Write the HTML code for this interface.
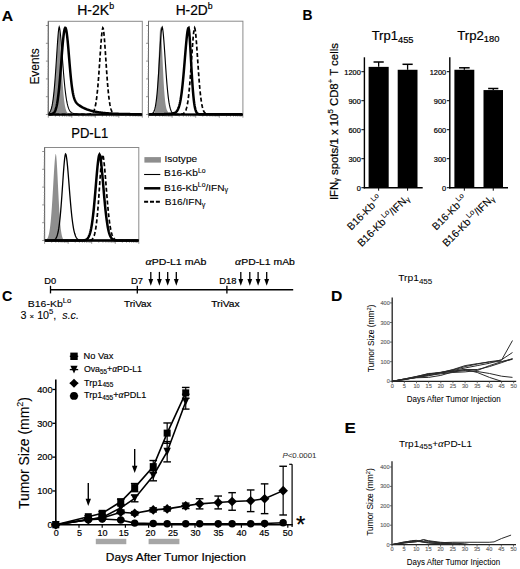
<!DOCTYPE html>
<html><head><meta charset="utf-8"><style>
html,body{margin:0;padding:0;background:#fff;}
svg{display:block;font-family:"Liberation Sans", sans-serif;}
text{stroke:#000;stroke-width:0.2px;}
text[fill="#666"]{stroke:#666;stroke-width:0.15px;}
text[fill="#333"]{stroke:#333;stroke-width:0.25px;}
text[font-weight="bold"]{stroke-width:0.1px;}
</style></head><body>
<svg width="520" height="569" viewBox="0 0 520 569" font-family='"Liberation Sans", sans-serif'>
<rect width="520" height="569" fill="#fff"/>
<text x="1.71" y="20.7" font-size="15.2" textLength="11.36" lengthAdjust="spacingAndGlyphs" font-weight="bold">A</text>
<text x="77.22" y="14.7" font-size="14" textLength="36.89" lengthAdjust="spacingAndGlyphs">H-2K<tspan font-size="8.8" dy="-5.9">b</tspan></text>
<text x="175.63" y="14.7" font-size="14" textLength="37.01" lengthAdjust="spacingAndGlyphs">H-2D<tspan font-size="8.8" dy="-5.9">b</tspan></text>
<text x="71.23" y="138.1" font-size="13.9" textLength="36.97" lengthAdjust="spacingAndGlyphs">PD-L1</text>
<text transform="translate(39.4,66.4) rotate(-90)" font-size="11.9" text-anchor="middle" style="stroke-width:0.1px">Events</text>
<line x1="48.3" y1="115.1" x2="48.3" y2="117.7" stroke="#777" stroke-width="0.8"/>
<line x1="55.37" y1="115.1" x2="55.37" y2="116.9" stroke="#999" stroke-width="0.7"/>
<line x1="59.51" y1="115.1" x2="59.51" y2="116.9" stroke="#999" stroke-width="0.7"/>
<line x1="62.45" y1="115.1" x2="62.45" y2="116.9" stroke="#999" stroke-width="0.7"/>
<line x1="64.73" y1="115.1" x2="64.73" y2="116.9" stroke="#999" stroke-width="0.7"/>
<line x1="66.59" y1="115.1" x2="66.59" y2="116.9" stroke="#999" stroke-width="0.7"/>
<line x1="68.16" y1="115.1" x2="68.16" y2="116.9" stroke="#999" stroke-width="0.7"/>
<line x1="69.52" y1="115.1" x2="69.52" y2="116.9" stroke="#999" stroke-width="0.7"/>
<line x1="70.72" y1="115.1" x2="70.72" y2="116.9" stroke="#999" stroke-width="0.7"/>
<line x1="71.8" y1="115.1" x2="71.8" y2="117.7" stroke="#777" stroke-width="0.8"/>
<line x1="78.87" y1="115.1" x2="78.87" y2="116.9" stroke="#999" stroke-width="0.7"/>
<line x1="83.01" y1="115.1" x2="83.01" y2="116.9" stroke="#999" stroke-width="0.7"/>
<line x1="85.95" y1="115.1" x2="85.95" y2="116.9" stroke="#999" stroke-width="0.7"/>
<line x1="88.23" y1="115.1" x2="88.23" y2="116.9" stroke="#999" stroke-width="0.7"/>
<line x1="90.09" y1="115.1" x2="90.09" y2="116.9" stroke="#999" stroke-width="0.7"/>
<line x1="91.66" y1="115.1" x2="91.66" y2="116.9" stroke="#999" stroke-width="0.7"/>
<line x1="93.02" y1="115.1" x2="93.02" y2="116.9" stroke="#999" stroke-width="0.7"/>
<line x1="94.22" y1="115.1" x2="94.22" y2="116.9" stroke="#999" stroke-width="0.7"/>
<line x1="95.3" y1="115.1" x2="95.3" y2="117.7" stroke="#777" stroke-width="0.8"/>
<line x1="102.37" y1="115.1" x2="102.37" y2="116.9" stroke="#999" stroke-width="0.7"/>
<line x1="106.51" y1="115.1" x2="106.51" y2="116.9" stroke="#999" stroke-width="0.7"/>
<line x1="109.45" y1="115.1" x2="109.45" y2="116.9" stroke="#999" stroke-width="0.7"/>
<line x1="111.73" y1="115.1" x2="111.73" y2="116.9" stroke="#999" stroke-width="0.7"/>
<line x1="113.59" y1="115.1" x2="113.59" y2="116.9" stroke="#999" stroke-width="0.7"/>
<line x1="115.16" y1="115.1" x2="115.16" y2="116.9" stroke="#999" stroke-width="0.7"/>
<line x1="116.52" y1="115.1" x2="116.52" y2="116.9" stroke="#999" stroke-width="0.7"/>
<line x1="117.72" y1="115.1" x2="117.72" y2="116.9" stroke="#999" stroke-width="0.7"/>
<line x1="118.8" y1="115.1" x2="118.8" y2="117.7" stroke="#777" stroke-width="0.8"/>
<line x1="125.87" y1="115.1" x2="125.87" y2="116.9" stroke="#999" stroke-width="0.7"/>
<line x1="130.01" y1="115.1" x2="130.01" y2="116.9" stroke="#999" stroke-width="0.7"/>
<line x1="132.95" y1="115.1" x2="132.95" y2="116.9" stroke="#999" stroke-width="0.7"/>
<line x1="135.23" y1="115.1" x2="135.23" y2="116.9" stroke="#999" stroke-width="0.7"/>
<line x1="137.09" y1="115.1" x2="137.09" y2="116.9" stroke="#999" stroke-width="0.7"/>
<line x1="138.66" y1="115.1" x2="138.66" y2="116.9" stroke="#999" stroke-width="0.7"/>
<line x1="140.02" y1="115.1" x2="140.02" y2="116.9" stroke="#999" stroke-width="0.7"/>
<line x1="141.22" y1="115.1" x2="141.22" y2="116.9" stroke="#999" stroke-width="0.7"/>
<line x1="142.3" y1="115.1" x2="142.3" y2="117.7" stroke="#777" stroke-width="0.8"/>
<rect x="48.3" y="21.3" width="94" height="93" fill="none" stroke="#8a8a8a" stroke-width="1"/>
<line x1="48.3" y1="21.3" x2="48.3" y2="114.3" stroke="#666" stroke-width="1"/>
<line x1="45.9" y1="25.5" x2="48.3" y2="25.5" stroke="#777" stroke-width="0.8"/>
<line x1="45.9" y1="43.3" x2="48.3" y2="43.3" stroke="#777" stroke-width="0.8"/>
<line x1="45.9" y1="61.1" x2="48.3" y2="61.1" stroke="#777" stroke-width="0.8"/>
<line x1="45.9" y1="78.9" x2="48.3" y2="78.9" stroke="#777" stroke-width="0.8"/>
<line x1="45.9" y1="96.7" x2="48.3" y2="96.7" stroke="#777" stroke-width="0.8"/>
<line x1="45.9" y1="114.5" x2="48.3" y2="114.5" stroke="#777" stroke-width="0.8"/>
<line x1="47" y1="30.86" x2="48.3" y2="30.86" stroke="#aaa" stroke-width="0.5"/>
<line x1="47" y1="33.99" x2="48.3" y2="33.99" stroke="#aaa" stroke-width="0.5"/>
<line x1="47" y1="36.22" x2="48.3" y2="36.22" stroke="#aaa" stroke-width="0.5"/>
<line x1="47" y1="37.94" x2="48.3" y2="37.94" stroke="#aaa" stroke-width="0.5"/>
<line x1="47" y1="39.35" x2="48.3" y2="39.35" stroke="#aaa" stroke-width="0.5"/>
<line x1="47" y1="40.54" x2="48.3" y2="40.54" stroke="#aaa" stroke-width="0.5"/>
<line x1="47" y1="41.58" x2="48.3" y2="41.58" stroke="#aaa" stroke-width="0.5"/>
<line x1="47" y1="42.49" x2="48.3" y2="42.49" stroke="#aaa" stroke-width="0.5"/>
<line x1="47" y1="48.66" x2="48.3" y2="48.66" stroke="#aaa" stroke-width="0.5"/>
<line x1="47" y1="51.79" x2="48.3" y2="51.79" stroke="#aaa" stroke-width="0.5"/>
<line x1="47" y1="54.02" x2="48.3" y2="54.02" stroke="#aaa" stroke-width="0.5"/>
<line x1="47" y1="55.74" x2="48.3" y2="55.74" stroke="#aaa" stroke-width="0.5"/>
<line x1="47" y1="57.15" x2="48.3" y2="57.15" stroke="#aaa" stroke-width="0.5"/>
<line x1="47" y1="58.34" x2="48.3" y2="58.34" stroke="#aaa" stroke-width="0.5"/>
<line x1="47" y1="59.38" x2="48.3" y2="59.38" stroke="#aaa" stroke-width="0.5"/>
<line x1="47" y1="60.29" x2="48.3" y2="60.29" stroke="#aaa" stroke-width="0.5"/>
<line x1="47" y1="66.46" x2="48.3" y2="66.46" stroke="#aaa" stroke-width="0.5"/>
<line x1="47" y1="69.59" x2="48.3" y2="69.59" stroke="#aaa" stroke-width="0.5"/>
<line x1="47" y1="71.82" x2="48.3" y2="71.82" stroke="#aaa" stroke-width="0.5"/>
<line x1="47" y1="73.54" x2="48.3" y2="73.54" stroke="#aaa" stroke-width="0.5"/>
<line x1="47" y1="74.95" x2="48.3" y2="74.95" stroke="#aaa" stroke-width="0.5"/>
<line x1="47" y1="76.14" x2="48.3" y2="76.14" stroke="#aaa" stroke-width="0.5"/>
<line x1="47" y1="77.18" x2="48.3" y2="77.18" stroke="#aaa" stroke-width="0.5"/>
<line x1="47" y1="78.09" x2="48.3" y2="78.09" stroke="#aaa" stroke-width="0.5"/>
<line x1="47" y1="84.26" x2="48.3" y2="84.26" stroke="#aaa" stroke-width="0.5"/>
<line x1="47" y1="87.39" x2="48.3" y2="87.39" stroke="#aaa" stroke-width="0.5"/>
<line x1="47" y1="89.62" x2="48.3" y2="89.62" stroke="#aaa" stroke-width="0.5"/>
<line x1="47" y1="91.34" x2="48.3" y2="91.34" stroke="#aaa" stroke-width="0.5"/>
<line x1="47" y1="92.75" x2="48.3" y2="92.75" stroke="#aaa" stroke-width="0.5"/>
<line x1="47" y1="93.94" x2="48.3" y2="93.94" stroke="#aaa" stroke-width="0.5"/>
<line x1="47" y1="94.98" x2="48.3" y2="94.98" stroke="#aaa" stroke-width="0.5"/>
<line x1="47" y1="95.89" x2="48.3" y2="95.89" stroke="#aaa" stroke-width="0.5"/>
<line x1="47" y1="102.06" x2="48.3" y2="102.06" stroke="#aaa" stroke-width="0.5"/>
<line x1="47" y1="105.19" x2="48.3" y2="105.19" stroke="#aaa" stroke-width="0.5"/>
<line x1="47" y1="107.42" x2="48.3" y2="107.42" stroke="#aaa" stroke-width="0.5"/>
<line x1="47" y1="109.14" x2="48.3" y2="109.14" stroke="#aaa" stroke-width="0.5"/>
<line x1="47" y1="110.55" x2="48.3" y2="110.55" stroke="#aaa" stroke-width="0.5"/>
<line x1="47" y1="111.74" x2="48.3" y2="111.74" stroke="#aaa" stroke-width="0.5"/>
<line x1="47" y1="112.78" x2="48.3" y2="112.78" stroke="#aaa" stroke-width="0.5"/>
<line x1="47" y1="113.69" x2="48.3" y2="113.69" stroke="#aaa" stroke-width="0.5"/>
<path d="M48.80,112.82 L49.20,112.41 L49.60,111.89 L50.00,111.24 L50.40,110.45 L50.80,109.48 L51.20,108.31 L51.60,106.90 L52.00,105.22 L52.40,103.24 L52.80,100.90 L53.20,98.20 L53.60,95.08 L54.00,91.53 L54.40,87.53 L54.80,83.08 L55.20,78.18 L55.60,72.86 L56.00,67.19 L56.40,61.23 L56.80,55.10 L57.20,48.95 L57.60,42.96 L58.00,37.38 L58.40,32.50 L58.80,28.72 L59.20,26.80 L59.60,29.61 L60.00,35.05 L60.40,41.91 L60.80,49.50 L61.20,57.34 L61.60,65.05 L62.00,72.36 L62.40,79.10 L62.80,85.16 L63.20,90.49 L63.60,95.08 L64.00,98.97 L64.40,102.22 L64.80,104.89 L65.20,107.04 L65.60,108.76 L66.00,110.12 L66.40,111.18 L66.80,111.99 L67.20,112.61 L67.60,113.07 L68.00,113.42 L68.40,113.67 L68.80,113.85 L69.20,113.99 L69.60,114.08 L70.00,114.15 L70.40,114.20 L70.80,114.23 L71.20,114.25 L71.60,114.27 L72.00,114.28 L72.40,114.29 L72.80,114.29 L73.20,114.29 L73.60,114.30 L74.00,114.30 L74.40,114.30 L74.80,114.30 L75.20,114.30 L75.60,114.30 L76.00,114.30 L76.40,114.30 L76.80,114.30 L77.20,114.30 L77.60,114.30 L78.00,114.30 L78.40,114.30 L78.80,114.30 L79.20,114.30 L79.60,114.30 L80.00,114.30 L80.40,114.30 L80.80,114.30 L81.20,114.30 L81.60,114.30 L82.00,114.30 L82.40,114.30 L82.80,114.30 L83.20,114.30 L83.60,114.30 L84.00,114.30 L84.40,114.30 L84.80,114.30 L85.20,114.30 L85.60,114.30 L86.00,114.30 L86.40,114.30 L86.80,114.30 L87.20,114.30 L87.60,114.30 L88.00,114.30 L88.40,114.30 L88.80,114.30 L89.20,114.30 L89.60,114.30 L90.00,114.30 L90.40,114.30 L90.80,114.30 L91.20,114.30 L91.60,114.30 L92.00,114.30 L92.40,114.30 L92.80,114.30 L93.20,114.30 L93.60,114.30 L94.00,114.30 L94.40,114.30 L94.80,114.30 L95.20,114.30 L95.60,114.30 L96.00,114.30 L96.40,114.30 L96.80,114.30 L97.20,114.30 L97.60,114.30 L98.00,114.30 L98.40,114.30 L98.80,114.30 L99.20,114.30 L99.60,114.30 L100.00,114.30 L100.40,114.30 L100.80,114.30 L101.20,114.30 L101.60,114.30 L102.00,114.30 L102.40,114.30 L102.80,114.30 L103.20,114.30 L103.60,114.30 L104.00,114.30 L104.40,114.30 L104.80,114.30 L105.20,114.30 L105.60,114.30 L106.00,114.30 L106.40,114.30 L106.80,114.30 L107.20,114.30 L107.60,114.30 L108.00,114.30 L108.40,114.30 L108.80,114.30 L109.20,114.30 L109.60,114.30 L110.00,114.30 L110.40,114.30 L110.80,114.30 L111.20,114.30 L111.60,114.30 L112.00,114.30 L112.40,114.30 L112.80,114.30 L113.20,114.30 L113.60,114.30 L114.00,114.30 L114.40,114.30 L114.80,114.30 L115.20,114.30 L115.60,114.30 L116.00,114.30 L116.40,114.30 L116.80,114.30 L117.20,114.30 L117.60,114.30 L118.00,114.30 L118.40,114.30 L118.80,114.30 L119.20,114.30 L119.60,114.30 L120.00,114.30 L120.40,114.30 L120.80,114.30 L121.20,114.30 L121.60,114.30 L122.00,114.30 L122.40,114.30 L122.80,114.30 L123.20,114.30 L123.60,114.30 L124.00,114.30 L124.40,114.30 L124.80,114.30 L125.20,114.30 L125.60,114.30 L126.00,114.30 L126.40,114.30 L126.80,114.30 L127.20,114.30 L127.60,114.30 L128.00,114.30 L128.40,114.30 L128.80,114.30 L129.20,114.30 L129.60,114.30 L130.00,114.30 L130.40,114.30 L130.80,114.30 L131.20,114.30 L131.60,114.30 L132.00,114.30 L132.40,114.30 L132.80,114.30 L133.20,114.30 L133.60,114.30 L134.00,114.30 L134.40,114.30 L134.80,114.30 L135.20,114.30 L135.60,114.30 L136.00,114.30 L136.40,114.30 L136.80,114.30 L137.20,114.30 L137.60,114.30 L138.00,114.30 L138.40,114.30 L138.80,114.30 L139.20,114.30 L139.60,114.30 L140.00,114.30 L140.40,114.30 L140.80,114.30 L141.20,114.30 L141.60,114.30 L141.80,114.30 L48.80,114.30 Z" fill="#8e8e8e" stroke="none"/>
<path d="M48.80,113.21 L49.20,112.85 L49.60,112.39 L50.00,111.81 L50.40,111.07 L50.80,110.15 L51.20,109.01 L51.60,107.62 L52.00,105.92 L52.40,103.89 L52.80,101.48 L53.20,98.65 L53.60,95.36 L54.00,91.60 L54.40,87.35 L54.80,82.61 L55.20,77.41 L55.60,71.80 L56.00,65.85 L56.40,59.67 L56.80,53.40 L57.20,47.23 L57.60,41.35 L58.00,36.04 L58.40,31.56 L58.80,28.30 L59.20,26.80 L59.60,27.91 L60.00,30.38 L60.40,33.80 L60.80,37.96 L61.20,42.65 L61.60,47.71 L62.00,52.97 L62.40,58.31 L62.80,63.60 L63.20,68.76 L63.60,73.71 L64.00,78.38 L64.40,82.73 L64.80,86.74 L65.20,90.39 L65.60,93.68 L66.00,96.61 L66.40,99.21 L66.80,101.48 L67.20,103.45 L67.60,105.16 L68.00,106.61 L68.40,107.85 L68.80,108.90 L69.20,109.77 L69.60,110.51 L70.00,111.12 L70.40,111.62 L70.80,112.04 L71.20,112.38 L71.60,112.66 L72.00,112.89 L72.40,113.08 L72.80,113.24 L73.20,113.37 L73.60,113.47 L74.00,113.56 L74.40,113.64 L74.80,113.70 L75.20,113.76 L75.60,113.80 L76.00,113.84 L76.40,113.88 L76.80,113.91 L77.20,113.94 L77.60,113.97 L78.00,113.99 L78.40,114.01 L78.80,114.03 L79.20,114.05 L79.60,114.07 L80.00,114.08 L80.40,114.09 L80.80,114.11 L81.20,114.12 L81.60,114.13 L82.00,114.14 L82.40,114.15 L82.80,114.16 L83.20,114.17 L83.60,114.18 L84.00,114.19 L84.40,114.20 L84.80,114.20 L85.20,114.21 L85.60,114.21 L86.00,114.22 L86.40,114.22 L86.80,114.23 L87.20,114.23 L87.60,114.24 L88.00,114.24 L88.40,114.25 L88.80,114.25 L89.20,114.25 L89.60,114.26 L90.00,114.26 L90.40,114.26 L90.80,114.26 L91.20,114.27 L91.60,114.27 L92.00,114.27 L92.40,114.27 L92.80,114.27 L93.20,114.28 L93.60,114.28 L94.00,114.28 L94.40,114.28 L94.80,114.28 L95.20,114.28 L95.60,114.28 L96.00,114.28 L96.40,114.29 L96.80,114.29 L97.20,114.29 L97.60,114.29 L98.00,114.29 L98.40,114.29 L98.80,114.29 L99.20,114.29 L99.60,114.29 L100.00,114.29 L100.40,114.29 L100.80,114.29 L101.20,114.29 L101.60,114.29 L102.00,114.29 L102.40,114.29 L102.80,114.30 L103.20,114.30 L103.60,114.30 L104.00,114.30 L104.40,114.30 L104.80,114.30 L105.20,114.30 L105.60,114.30 L106.00,114.30 L106.40,114.30 L106.80,114.30 L107.20,114.30 L107.60,114.30 L108.00,114.30 L108.40,114.30 L108.80,114.30 L109.20,114.30 L109.60,114.30 L110.00,114.30 L110.40,114.30 L110.80,114.30 L111.20,114.30 L111.60,114.30 L112.00,114.30 L112.40,114.30 L112.80,114.30 L113.20,114.30 L113.60,114.30 L114.00,114.30 L114.40,114.30 L114.80,114.30 L115.20,114.30 L115.60,114.30 L116.00,114.30 L116.40,114.30 L116.80,114.30 L117.20,114.30 L117.60,114.30 L118.00,114.30 L118.40,114.30 L118.80,114.30 L119.20,114.30 L119.60,114.30 L120.00,114.30 L120.40,114.30 L120.80,114.30 L121.20,114.30 L121.60,114.30 L122.00,114.30 L122.40,114.30 L122.80,114.30 L123.20,114.30 L123.60,114.30 L124.00,114.30 L124.40,114.30 L124.80,114.30 L125.20,114.30 L125.60,114.30 L126.00,114.30 L126.40,114.30 L126.80,114.30 L127.20,114.30 L127.60,114.30 L128.00,114.30 L128.40,114.30 L128.80,114.30 L129.20,114.30 L129.60,114.30 L130.00,114.30 L130.40,114.30 L130.80,114.30 L131.20,114.30 L131.60,114.30 L132.00,114.30 L132.40,114.30 L132.80,114.30 L133.20,114.30 L133.60,114.30 L134.00,114.30 L134.40,114.30 L134.80,114.30 L135.20,114.30 L135.60,114.30 L136.00,114.30 L136.40,114.30 L136.80,114.30 L137.20,114.30 L137.60,114.30 L138.00,114.30 L138.40,114.30 L138.80,114.30 L139.20,114.30 L139.60,114.30 L140.00,114.30 L140.40,114.30 L140.80,114.30 L141.20,114.30 L141.60,114.30" fill="none" stroke="#000" stroke-width="1.1"/>
<path d="M48.80,114.28 L49.20,114.27 L49.60,114.26 L50.00,114.24 L50.40,114.22 L50.80,114.18 L51.20,114.13 L51.60,114.05 L52.00,113.96 L52.40,113.82 L52.80,113.64 L53.20,113.41 L53.60,113.10 L54.00,112.70 L54.40,112.19 L54.80,111.54 L55.20,110.73 L55.60,109.73 L56.00,108.50 L56.40,107.02 L56.80,105.25 L57.20,103.17 L57.60,100.74 L58.00,97.94 L58.40,94.76 L58.80,91.20 L59.20,87.26 L59.60,82.96 L60.00,78.34 L60.40,73.45 L60.80,68.36 L61.20,63.15 L61.60,57.91 L62.00,52.75 L62.40,47.79 L62.80,43.15 L63.20,38.94 L63.60,35.27 L64.00,32.25 L64.40,29.96 L64.80,28.47 L65.20,27.83 L65.60,28.02 L66.00,29.03 L66.40,30.82 L66.80,33.36 L67.20,36.58 L67.60,40.38 L68.00,44.64 L68.40,49.23 L68.80,54.03 L69.20,58.91 L69.60,63.75 L70.00,68.45 L70.40,72.91 L70.80,77.08 L71.20,80.91 L71.60,84.36 L72.00,87.44 L72.40,90.14 L72.80,92.49 L73.20,94.50 L73.60,96.22 L74.00,97.68 L74.40,98.91 L74.80,99.94 L75.20,100.82 L75.60,101.57 L76.00,102.20 L76.40,102.76 L76.80,103.24 L77.20,103.68 L77.60,104.07 L78.00,104.42 L78.40,104.76 L78.80,105.07 L79.20,105.36 L79.60,105.64 L80.00,105.91 L80.40,106.17 L80.80,106.42 L81.20,106.66 L81.60,106.89 L82.00,107.12 L82.40,107.34 L82.80,107.55 L83.20,107.75 L83.60,107.95 L84.00,108.14 L84.40,108.33 L84.80,108.51 L85.20,108.69 L85.60,108.86 L86.00,109.02 L86.40,109.18 L86.80,109.34 L87.20,109.49 L87.60,109.63 L88.00,109.77 L88.40,109.91 L88.80,110.04 L89.20,110.17 L89.60,110.30 L90.00,110.42 L90.40,110.54 L90.80,110.65 L91.20,110.76 L91.60,110.87 L92.00,110.97 L92.40,111.07 L92.80,111.17 L93.20,111.27 L93.60,111.36 L94.00,111.45 L94.40,111.53 L94.80,111.62 L95.20,111.70 L95.60,111.78 L96.00,111.85 L96.40,111.93 L96.80,112.00 L97.20,112.07 L97.60,112.14 L98.00,112.20 L98.40,112.27 L98.80,112.33 L99.20,112.39 L99.60,112.45 L100.00,112.50 L100.40,112.56 L100.80,112.61 L101.20,112.66 L101.60,112.71 L102.00,112.76 L102.40,112.80 L102.80,112.85 L103.20,112.89 L103.60,112.94 L104.00,112.98 L104.40,113.02 L104.80,113.06 L105.20,113.09 L105.60,113.13 L106.00,113.17 L106.40,113.20 L106.80,113.23 L107.20,113.27 L107.60,113.30 L108.00,113.33 L108.40,113.36 L108.80,113.39 L109.20,113.41 L109.60,113.44 L110.00,113.47 L110.40,113.49 L110.80,113.52 L111.20,113.54 L111.60,113.56 L112.00,113.59 L112.40,113.61 L112.80,113.63 L113.20,113.65 L113.60,113.67 L114.00,113.69 L114.40,113.71 L114.80,113.72 L115.20,113.74 L115.60,113.76 L116.00,113.77 L116.40,113.79 L116.80,113.81 L117.20,113.82 L117.60,113.84 L118.00,113.85 L118.40,113.86 L118.80,113.88 L119.20,113.89 L119.60,113.90 L120.00,113.91 L120.40,113.93 L120.80,113.94 L121.20,113.95 L121.60,113.96 L122.00,113.97 L122.40,113.98 L122.80,113.99 L123.20,114.00 L123.60,114.01 L124.00,114.02 L124.40,114.02 L124.80,114.03 L125.20,114.04 L125.60,114.05 L126.00,114.06 L126.40,114.06 L126.80,114.07 L127.20,114.08 L127.60,114.08 L128.00,114.09 L128.40,114.10 L128.80,114.10 L129.20,114.11 L129.60,114.12 L130.00,114.12 L130.40,114.13 L130.80,114.13 L131.20,114.14 L131.60,114.14 L132.00,114.15 L132.40,114.15 L132.80,114.16 L133.20,114.16 L133.60,114.16 L134.00,114.17 L134.40,114.17 L134.80,114.18 L135.20,114.18 L135.60,114.18 L136.00,114.19 L136.40,114.19 L136.80,114.19 L137.20,114.20 L137.60,114.20 L138.00,114.20 L138.40,114.21 L138.80,114.21 L139.20,114.21 L139.60,114.21 L140.00,114.22 L140.40,114.22 L140.80,114.22 L141.20,114.22 L141.60,114.23" fill="none" stroke="#000" stroke-width="2.5"/>
<path d="M48.80,114.30 L49.20,114.30 L49.60,114.30 L50.00,114.30 L50.40,114.30 L50.80,114.30 L51.20,114.30 L51.60,114.30 L52.00,114.30 L52.40,114.30 L52.80,114.30 L53.20,114.30 L53.60,114.30 L54.00,114.30 L54.40,114.30 L54.80,114.30 L55.20,114.30 L55.60,114.30 L56.00,114.30 L56.40,114.30 L56.80,114.30 L57.20,114.30 L57.60,114.30 L58.00,114.30 L58.40,114.30 L58.80,114.30 L59.20,114.30 L59.60,114.30 L60.00,114.30 L60.40,114.30 L60.80,114.30 L61.20,114.30 L61.60,114.30 L62.00,114.30 L62.40,114.30 L62.80,114.30 L63.20,114.30 L63.60,114.30 L64.00,114.30 L64.40,114.30 L64.80,114.30 L65.20,114.30 L65.60,114.30 L66.00,114.30 L66.40,114.30 L66.80,114.30 L67.20,114.30 L67.60,114.30 L68.00,114.30 L68.40,114.30 L68.80,114.30 L69.20,114.30 L69.60,114.30 L70.00,114.30 L70.40,114.30 L70.80,114.30 L71.20,114.30 L71.60,114.30 L72.00,114.30 L72.40,114.30 L72.80,114.30 L73.20,114.30 L73.60,114.30 L74.00,114.30 L74.40,114.30 L74.80,114.30 L75.20,114.30 L75.60,114.30 L76.00,114.30 L76.40,114.30 L76.80,114.30 L77.20,114.30 L77.60,114.30 L78.00,114.30 L78.40,114.30 L78.80,114.30 L79.20,114.30 L79.60,114.30 L80.00,114.30 L80.40,114.30 L80.80,114.30 L81.20,114.30 L81.60,114.30 L82.00,114.30 L82.40,114.30 L82.80,114.30 L83.20,114.30 L83.60,114.30 L84.00,114.30 L84.40,114.30 L84.80,114.30 L85.20,114.30 L85.60,114.30 L86.00,114.30 L86.40,114.29 L86.80,114.29 L87.20,114.29 L87.60,114.28 L88.00,114.27 L88.40,114.26 L88.80,114.24 L89.20,114.21 L89.60,114.17 L90.00,114.12 L90.40,114.04 L90.80,113.94 L91.20,113.80 L91.60,113.62 L92.00,113.38 L92.40,113.06 L92.80,112.65 L93.20,112.12 L93.60,111.45 L94.00,110.60 L94.40,109.55 L94.80,108.25 L95.20,106.68 L95.60,104.78 L96.00,102.52 L96.40,99.86 L96.80,96.78 L97.20,93.25 L97.60,89.27 L98.00,84.82 L98.40,79.95 L98.80,74.69 L99.20,69.11 L99.60,63.31 L100.00,57.40 L100.40,51.53 L100.80,45.86 L101.20,40.60 L101.60,35.94 L102.00,32.10 L102.40,29.32 L102.80,27.88 L103.20,28.44 L103.60,30.72 L104.00,34.25 L104.40,38.75 L104.80,43.98 L105.20,49.72 L105.60,55.73 L106.00,61.84 L106.40,67.86 L106.80,73.68 L107.20,79.17 L107.60,84.26 L108.00,88.89 L108.40,93.04 L108.80,96.70 L109.20,99.89 L109.60,102.62 L110.00,104.93 L110.40,106.86 L110.80,108.45 L111.20,109.74 L111.60,110.79 L112.00,111.62 L112.40,112.27 L112.80,112.78 L113.20,113.17 L113.60,113.47 L114.00,113.70 L114.40,113.87 L114.80,113.99 L115.20,114.08 L115.60,114.15 L116.00,114.19 L116.40,114.23 L116.80,114.25 L117.20,114.27 L117.60,114.28 L118.00,114.28 L118.40,114.29 L118.80,114.29 L119.20,114.30 L119.60,114.30 L120.00,114.30 L120.40,114.30 L120.80,114.30 L121.20,114.30 L121.60,114.30 L122.00,114.30 L122.40,114.30 L122.80,114.30 L123.20,114.30 L123.60,114.30 L124.00,114.30 L124.40,114.30 L124.80,114.30 L125.20,114.30 L125.60,114.30 L126.00,114.30 L126.40,114.30 L126.80,114.30 L127.20,114.30 L127.60,114.30 L128.00,114.30 L128.40,114.30 L128.80,114.30 L129.20,114.30 L129.60,114.30 L130.00,114.30 L130.40,114.30 L130.80,114.30 L131.20,114.30 L131.60,114.30 L132.00,114.30 L132.40,114.30 L132.80,114.30 L133.20,114.30 L133.60,114.30 L134.00,114.30 L134.40,114.30 L134.80,114.30 L135.20,114.30 L135.60,114.30 L136.00,114.30 L136.40,114.30 L136.80,114.30 L137.20,114.30 L137.60,114.30 L138.00,114.30 L138.40,114.30 L138.80,114.30 L139.20,114.30 L139.60,114.30 L140.00,114.30 L140.40,114.30 L140.80,114.30 L141.20,114.30 L141.60,114.30" fill="none" stroke="#000" stroke-width="1.7" stroke-dasharray="4,2.4"/>
<line x1="48.3" y1="114.6" x2="142.3" y2="114.6" stroke="#000" stroke-width="2.3"/>
<line x1="148.5" y1="115.1" x2="148.5" y2="117.7" stroke="#777" stroke-width="0.8"/>
<line x1="155.6" y1="115.1" x2="155.6" y2="116.9" stroke="#999" stroke-width="0.7"/>
<line x1="159.76" y1="115.1" x2="159.76" y2="116.9" stroke="#999" stroke-width="0.7"/>
<line x1="162.71" y1="115.1" x2="162.71" y2="116.9" stroke="#999" stroke-width="0.7"/>
<line x1="165" y1="115.1" x2="165" y2="116.9" stroke="#999" stroke-width="0.7"/>
<line x1="166.86" y1="115.1" x2="166.86" y2="116.9" stroke="#999" stroke-width="0.7"/>
<line x1="168.44" y1="115.1" x2="168.44" y2="116.9" stroke="#999" stroke-width="0.7"/>
<line x1="169.81" y1="115.1" x2="169.81" y2="116.9" stroke="#999" stroke-width="0.7"/>
<line x1="171.02" y1="115.1" x2="171.02" y2="116.9" stroke="#999" stroke-width="0.7"/>
<line x1="172.1" y1="115.1" x2="172.1" y2="117.7" stroke="#777" stroke-width="0.8"/>
<line x1="179.2" y1="115.1" x2="179.2" y2="116.9" stroke="#999" stroke-width="0.7"/>
<line x1="183.36" y1="115.1" x2="183.36" y2="116.9" stroke="#999" stroke-width="0.7"/>
<line x1="186.31" y1="115.1" x2="186.31" y2="116.9" stroke="#999" stroke-width="0.7"/>
<line x1="188.6" y1="115.1" x2="188.6" y2="116.9" stroke="#999" stroke-width="0.7"/>
<line x1="190.46" y1="115.1" x2="190.46" y2="116.9" stroke="#999" stroke-width="0.7"/>
<line x1="192.04" y1="115.1" x2="192.04" y2="116.9" stroke="#999" stroke-width="0.7"/>
<line x1="193.41" y1="115.1" x2="193.41" y2="116.9" stroke="#999" stroke-width="0.7"/>
<line x1="194.62" y1="115.1" x2="194.62" y2="116.9" stroke="#999" stroke-width="0.7"/>
<line x1="195.7" y1="115.1" x2="195.7" y2="117.7" stroke="#777" stroke-width="0.8"/>
<line x1="202.8" y1="115.1" x2="202.8" y2="116.9" stroke="#999" stroke-width="0.7"/>
<line x1="206.96" y1="115.1" x2="206.96" y2="116.9" stroke="#999" stroke-width="0.7"/>
<line x1="209.91" y1="115.1" x2="209.91" y2="116.9" stroke="#999" stroke-width="0.7"/>
<line x1="212.2" y1="115.1" x2="212.2" y2="116.9" stroke="#999" stroke-width="0.7"/>
<line x1="214.06" y1="115.1" x2="214.06" y2="116.9" stroke="#999" stroke-width="0.7"/>
<line x1="215.64" y1="115.1" x2="215.64" y2="116.9" stroke="#999" stroke-width="0.7"/>
<line x1="217.01" y1="115.1" x2="217.01" y2="116.9" stroke="#999" stroke-width="0.7"/>
<line x1="218.22" y1="115.1" x2="218.22" y2="116.9" stroke="#999" stroke-width="0.7"/>
<line x1="219.3" y1="115.1" x2="219.3" y2="117.7" stroke="#777" stroke-width="0.8"/>
<line x1="226.4" y1="115.1" x2="226.4" y2="116.9" stroke="#999" stroke-width="0.7"/>
<line x1="230.56" y1="115.1" x2="230.56" y2="116.9" stroke="#999" stroke-width="0.7"/>
<line x1="233.51" y1="115.1" x2="233.51" y2="116.9" stroke="#999" stroke-width="0.7"/>
<line x1="235.8" y1="115.1" x2="235.8" y2="116.9" stroke="#999" stroke-width="0.7"/>
<line x1="237.66" y1="115.1" x2="237.66" y2="116.9" stroke="#999" stroke-width="0.7"/>
<line x1="239.24" y1="115.1" x2="239.24" y2="116.9" stroke="#999" stroke-width="0.7"/>
<line x1="240.61" y1="115.1" x2="240.61" y2="116.9" stroke="#999" stroke-width="0.7"/>
<line x1="241.82" y1="115.1" x2="241.82" y2="116.9" stroke="#999" stroke-width="0.7"/>
<line x1="242.9" y1="115.1" x2="242.9" y2="117.7" stroke="#777" stroke-width="0.8"/>
<rect x="148.5" y="21.2" width="94.4" height="93.1" fill="none" stroke="#8a8a8a" stroke-width="1"/>
<line x1="148.5" y1="21.2" x2="148.5" y2="114.3" stroke="#666" stroke-width="1"/>
<line x1="146.1" y1="25.5" x2="148.5" y2="25.5" stroke="#777" stroke-width="0.8"/>
<line x1="146.1" y1="43.3" x2="148.5" y2="43.3" stroke="#777" stroke-width="0.8"/>
<line x1="146.1" y1="61.1" x2="148.5" y2="61.1" stroke="#777" stroke-width="0.8"/>
<line x1="146.1" y1="78.9" x2="148.5" y2="78.9" stroke="#777" stroke-width="0.8"/>
<line x1="146.1" y1="96.7" x2="148.5" y2="96.7" stroke="#777" stroke-width="0.8"/>
<line x1="146.1" y1="114.5" x2="148.5" y2="114.5" stroke="#777" stroke-width="0.8"/>
<line x1="147.2" y1="30.86" x2="148.5" y2="30.86" stroke="#aaa" stroke-width="0.5"/>
<line x1="147.2" y1="33.99" x2="148.5" y2="33.99" stroke="#aaa" stroke-width="0.5"/>
<line x1="147.2" y1="36.22" x2="148.5" y2="36.22" stroke="#aaa" stroke-width="0.5"/>
<line x1="147.2" y1="37.94" x2="148.5" y2="37.94" stroke="#aaa" stroke-width="0.5"/>
<line x1="147.2" y1="39.35" x2="148.5" y2="39.35" stroke="#aaa" stroke-width="0.5"/>
<line x1="147.2" y1="40.54" x2="148.5" y2="40.54" stroke="#aaa" stroke-width="0.5"/>
<line x1="147.2" y1="41.58" x2="148.5" y2="41.58" stroke="#aaa" stroke-width="0.5"/>
<line x1="147.2" y1="42.49" x2="148.5" y2="42.49" stroke="#aaa" stroke-width="0.5"/>
<line x1="147.2" y1="48.66" x2="148.5" y2="48.66" stroke="#aaa" stroke-width="0.5"/>
<line x1="147.2" y1="51.79" x2="148.5" y2="51.79" stroke="#aaa" stroke-width="0.5"/>
<line x1="147.2" y1="54.02" x2="148.5" y2="54.02" stroke="#aaa" stroke-width="0.5"/>
<line x1="147.2" y1="55.74" x2="148.5" y2="55.74" stroke="#aaa" stroke-width="0.5"/>
<line x1="147.2" y1="57.15" x2="148.5" y2="57.15" stroke="#aaa" stroke-width="0.5"/>
<line x1="147.2" y1="58.34" x2="148.5" y2="58.34" stroke="#aaa" stroke-width="0.5"/>
<line x1="147.2" y1="59.38" x2="148.5" y2="59.38" stroke="#aaa" stroke-width="0.5"/>
<line x1="147.2" y1="60.29" x2="148.5" y2="60.29" stroke="#aaa" stroke-width="0.5"/>
<line x1="147.2" y1="66.46" x2="148.5" y2="66.46" stroke="#aaa" stroke-width="0.5"/>
<line x1="147.2" y1="69.59" x2="148.5" y2="69.59" stroke="#aaa" stroke-width="0.5"/>
<line x1="147.2" y1="71.82" x2="148.5" y2="71.82" stroke="#aaa" stroke-width="0.5"/>
<line x1="147.2" y1="73.54" x2="148.5" y2="73.54" stroke="#aaa" stroke-width="0.5"/>
<line x1="147.2" y1="74.95" x2="148.5" y2="74.95" stroke="#aaa" stroke-width="0.5"/>
<line x1="147.2" y1="76.14" x2="148.5" y2="76.14" stroke="#aaa" stroke-width="0.5"/>
<line x1="147.2" y1="77.18" x2="148.5" y2="77.18" stroke="#aaa" stroke-width="0.5"/>
<line x1="147.2" y1="78.09" x2="148.5" y2="78.09" stroke="#aaa" stroke-width="0.5"/>
<line x1="147.2" y1="84.26" x2="148.5" y2="84.26" stroke="#aaa" stroke-width="0.5"/>
<line x1="147.2" y1="87.39" x2="148.5" y2="87.39" stroke="#aaa" stroke-width="0.5"/>
<line x1="147.2" y1="89.62" x2="148.5" y2="89.62" stroke="#aaa" stroke-width="0.5"/>
<line x1="147.2" y1="91.34" x2="148.5" y2="91.34" stroke="#aaa" stroke-width="0.5"/>
<line x1="147.2" y1="92.75" x2="148.5" y2="92.75" stroke="#aaa" stroke-width="0.5"/>
<line x1="147.2" y1="93.94" x2="148.5" y2="93.94" stroke="#aaa" stroke-width="0.5"/>
<line x1="147.2" y1="94.98" x2="148.5" y2="94.98" stroke="#aaa" stroke-width="0.5"/>
<line x1="147.2" y1="95.89" x2="148.5" y2="95.89" stroke="#aaa" stroke-width="0.5"/>
<line x1="147.2" y1="102.06" x2="148.5" y2="102.06" stroke="#aaa" stroke-width="0.5"/>
<line x1="147.2" y1="105.19" x2="148.5" y2="105.19" stroke="#aaa" stroke-width="0.5"/>
<line x1="147.2" y1="107.42" x2="148.5" y2="107.42" stroke="#aaa" stroke-width="0.5"/>
<line x1="147.2" y1="109.14" x2="148.5" y2="109.14" stroke="#aaa" stroke-width="0.5"/>
<line x1="147.2" y1="110.55" x2="148.5" y2="110.55" stroke="#aaa" stroke-width="0.5"/>
<line x1="147.2" y1="111.74" x2="148.5" y2="111.74" stroke="#aaa" stroke-width="0.5"/>
<line x1="147.2" y1="112.78" x2="148.5" y2="112.78" stroke="#aaa" stroke-width="0.5"/>
<line x1="147.2" y1="113.69" x2="148.5" y2="113.69" stroke="#aaa" stroke-width="0.5"/>
<path d="M149.00,114.30 L149.40,114.30 L149.80,114.30 L150.20,114.30 L150.60,114.29 L151.00,114.29 L151.40,114.28 L151.80,114.26 L152.20,114.22 L152.60,114.15 L153.00,114.03 L153.40,113.83 L153.80,113.51 L154.20,112.99 L154.60,112.20 L155.00,111.00 L155.40,109.26 L155.80,106.80 L156.20,103.43 L156.60,98.98 L157.00,93.28 L157.40,86.28 L157.80,78.02 L158.20,68.72 L158.60,58.77 L159.00,48.81 L159.40,39.63 L159.80,32.22 L160.20,27.66 L160.60,27.40 L161.00,30.57 L161.40,36.08 L161.80,43.32 L162.20,51.63 L162.60,60.39 L163.00,69.02 L163.40,77.10 L163.80,84.33 L164.20,90.56 L164.60,95.74 L165.00,99.93 L165.40,103.23 L165.80,105.78 L166.20,107.71 L166.60,109.16 L167.00,110.23 L167.40,111.04 L167.80,111.64 L168.20,112.09 L168.60,112.44 L169.00,112.72 L169.40,112.95 L169.80,113.13 L170.20,113.29 L170.60,113.42 L171.00,113.53 L171.40,113.63 L171.80,113.71 L172.20,113.79 L172.60,113.85 L173.00,113.91 L173.40,113.96 L173.80,114.00 L174.20,114.04 L174.60,114.07 L175.00,114.10 L175.40,114.12 L175.80,114.15 L176.20,114.16 L176.60,114.18 L177.00,114.20 L177.40,114.21 L177.80,114.22 L178.20,114.23 L178.60,114.24 L179.00,114.25 L179.40,114.25 L179.80,114.26 L180.20,114.26 L180.60,114.27 L181.00,114.27 L181.40,114.28 L181.80,114.28 L182.20,114.28 L182.60,114.28 L183.00,114.29 L183.40,114.29 L183.80,114.29 L184.20,114.29 L184.60,114.29 L185.00,114.29 L185.40,114.29 L185.80,114.29 L186.20,114.30 L186.60,114.30 L187.00,114.30 L187.40,114.30 L187.80,114.30 L188.20,114.30 L188.60,114.30 L189.00,114.30 L189.40,114.30 L189.80,114.30 L190.20,114.30 L190.60,114.30 L191.00,114.30 L191.40,114.30 L191.80,114.30 L192.20,114.30 L192.60,114.30 L193.00,114.30 L193.40,114.30 L193.80,114.30 L194.20,114.30 L194.60,114.30 L195.00,114.30 L195.40,114.30 L195.80,114.30 L196.20,114.30 L196.60,114.30 L197.00,114.30 L197.40,114.30 L197.80,114.30 L198.20,114.30 L198.60,114.30 L199.00,114.30 L199.40,114.30 L199.80,114.30 L200.20,114.30 L200.60,114.30 L201.00,114.30 L201.40,114.30 L201.80,114.30 L202.20,114.30 L202.60,114.30 L203.00,114.30 L203.40,114.30 L203.80,114.30 L204.20,114.30 L204.60,114.30 L205.00,114.30 L205.40,114.30 L205.80,114.30 L206.20,114.30 L206.60,114.30 L207.00,114.30 L207.40,114.30 L207.80,114.30 L208.20,114.30 L208.60,114.30 L209.00,114.30 L209.40,114.30 L209.80,114.30 L210.20,114.30 L210.60,114.30 L211.00,114.30 L211.40,114.30 L211.80,114.30 L212.20,114.30 L212.60,114.30 L213.00,114.30 L213.40,114.30 L213.80,114.30 L214.20,114.30 L214.60,114.30 L215.00,114.30 L215.40,114.30 L215.80,114.30 L216.20,114.30 L216.60,114.30 L217.00,114.30 L217.40,114.30 L217.80,114.30 L218.20,114.30 L218.60,114.30 L219.00,114.30 L219.40,114.30 L219.80,114.30 L220.20,114.30 L220.60,114.30 L221.00,114.30 L221.40,114.30 L221.80,114.30 L222.20,114.30 L222.60,114.30 L223.00,114.30 L223.40,114.30 L223.80,114.30 L224.20,114.30 L224.60,114.30 L225.00,114.30 L225.40,114.30 L225.80,114.30 L226.20,114.30 L226.60,114.30 L227.00,114.30 L227.40,114.30 L227.80,114.30 L228.20,114.30 L228.60,114.30 L229.00,114.30 L229.40,114.30 L229.80,114.30 L230.20,114.30 L230.60,114.30 L231.00,114.30 L231.40,114.30 L231.80,114.30 L232.20,114.30 L232.60,114.30 L233.00,114.30 L233.40,114.30 L233.80,114.30 L234.20,114.30 L234.60,114.30 L235.00,114.30 L235.40,114.30 L235.80,114.30 L236.20,114.30 L236.60,114.30 L237.00,114.30 L237.40,114.30 L237.80,114.30 L238.20,114.30 L238.60,114.30 L239.00,114.30 L239.40,114.30 L239.80,114.30 L240.20,114.30 L240.60,114.30 L241.00,114.30 L241.40,114.30 L241.80,114.30 L242.20,114.30 L242.40,114.30 L149.00,114.30 Z" fill="#8e8e8e" stroke="none"/>
<path d="M149.00,114.27 L149.40,114.26 L149.80,114.23 L150.20,114.20 L150.60,114.15 L151.00,114.08 L151.40,113.97 L151.80,113.82 L152.20,113.62 L152.60,113.34 L153.00,112.95 L153.40,112.44 L153.80,111.75 L154.20,110.86 L154.60,109.71 L155.00,108.24 L155.40,106.41 L155.80,104.14 L156.20,101.39 L156.60,98.10 L157.00,94.23 L157.40,89.76 L157.80,84.69 L158.20,79.04 L158.60,72.90 L159.00,66.36 L159.40,59.58 L159.80,52.77 L160.20,46.15 L160.60,40.01 L161.00,34.66 L161.40,30.43 L161.80,27.68 L162.20,26.99 L162.60,28.43 L163.00,31.24 L163.40,35.12 L163.80,39.83 L164.20,45.15 L164.60,50.87 L165.00,56.81 L165.40,62.78 L165.80,68.64 L166.20,74.28 L166.60,79.59 L167.00,84.52 L167.40,89.01 L167.80,93.03 L168.20,96.60 L168.60,99.71 L169.00,102.40 L169.40,104.68 L169.80,106.60 L170.20,108.19 L170.60,109.50 L171.00,110.56 L171.40,111.42 L171.80,112.10 L172.20,112.63 L172.60,113.05 L173.00,113.37 L173.40,113.61 L173.80,113.80 L174.20,113.94 L174.60,114.04 L175.00,114.11 L175.40,114.17 L175.80,114.21 L176.20,114.24 L176.60,114.26 L177.00,114.27 L177.40,114.28 L177.80,114.29 L178.20,114.29 L178.60,114.29 L179.00,114.30 L179.40,114.30 L179.80,114.30 L180.20,114.30 L180.60,114.30 L181.00,114.30 L181.40,114.30 L181.80,114.30 L182.20,114.30 L182.60,114.30 L183.00,114.30 L183.40,114.30 L183.80,114.30 L184.20,114.30 L184.60,114.30 L185.00,114.30 L185.40,114.30 L185.80,114.30 L186.20,114.30 L186.60,114.30 L187.00,114.30 L187.40,114.30 L187.80,114.30 L188.20,114.30 L188.60,114.30 L189.00,114.30 L189.40,114.30 L189.80,114.30 L190.20,114.30 L190.60,114.30 L191.00,114.30 L191.40,114.30 L191.80,114.30 L192.20,114.30 L192.60,114.30 L193.00,114.30 L193.40,114.30 L193.80,114.30 L194.20,114.30 L194.60,114.30 L195.00,114.30 L195.40,114.30 L195.80,114.30 L196.20,114.30 L196.60,114.30 L197.00,114.30 L197.40,114.30 L197.80,114.30 L198.20,114.30 L198.60,114.30 L199.00,114.30 L199.40,114.30 L199.80,114.30 L200.20,114.30 L200.60,114.30 L201.00,114.30 L201.40,114.30 L201.80,114.30 L202.20,114.30 L202.60,114.30 L203.00,114.30 L203.40,114.30 L203.80,114.30 L204.20,114.30 L204.60,114.30 L205.00,114.30 L205.40,114.30 L205.80,114.30 L206.20,114.30 L206.60,114.30 L207.00,114.30 L207.40,114.30 L207.80,114.30 L208.20,114.30 L208.60,114.30 L209.00,114.30 L209.40,114.30 L209.80,114.30 L210.20,114.30 L210.60,114.30 L211.00,114.30 L211.40,114.30 L211.80,114.30 L212.20,114.30 L212.60,114.30 L213.00,114.30 L213.40,114.30 L213.80,114.30 L214.20,114.30 L214.60,114.30 L215.00,114.30 L215.40,114.30 L215.80,114.30 L216.20,114.30 L216.60,114.30 L217.00,114.30 L217.40,114.30 L217.80,114.30 L218.20,114.30 L218.60,114.30 L219.00,114.30 L219.40,114.30 L219.80,114.30 L220.20,114.30 L220.60,114.30 L221.00,114.30 L221.40,114.30 L221.80,114.30 L222.20,114.30 L222.60,114.30 L223.00,114.30 L223.40,114.30 L223.80,114.30 L224.20,114.30 L224.60,114.30 L225.00,114.30 L225.40,114.30 L225.80,114.30 L226.20,114.30 L226.60,114.30 L227.00,114.30 L227.40,114.30 L227.80,114.30 L228.20,114.30 L228.60,114.30 L229.00,114.30 L229.40,114.30 L229.80,114.30 L230.20,114.30 L230.60,114.30 L231.00,114.30 L231.40,114.30 L231.80,114.30 L232.20,114.30 L232.60,114.30 L233.00,114.30 L233.40,114.30 L233.80,114.30 L234.20,114.30 L234.60,114.30 L235.00,114.30 L235.40,114.30 L235.80,114.30 L236.20,114.30 L236.60,114.30 L237.00,114.30 L237.40,114.30 L237.80,114.30 L238.20,114.30 L238.60,114.30 L239.00,114.30 L239.40,114.30 L239.80,114.30 L240.20,114.30 L240.60,114.30 L241.00,114.30 L241.40,114.30 L241.80,114.30 L242.20,114.30" fill="none" stroke="#000" stroke-width="1.15"/>
<path d="M149.00,114.29 L149.40,114.28 L149.80,114.28 L150.20,114.28 L150.60,114.28 L151.00,114.28 L151.40,114.28 L151.80,114.28 L152.20,114.28 L152.60,114.27 L153.00,114.27 L153.40,114.27 L153.80,114.27 L154.20,114.27 L154.60,114.26 L155.00,114.26 L155.40,114.26 L155.80,114.26 L156.20,114.25 L156.60,114.25 L157.00,114.25 L157.40,114.24 L157.80,114.24 L158.20,114.23 L158.60,114.23 L159.00,114.22 L159.40,114.22 L159.80,114.21 L160.20,114.21 L160.60,114.20 L161.00,114.19 L161.40,114.19 L161.80,114.18 L162.20,114.17 L162.60,114.16 L163.00,114.15 L163.40,114.14 L163.80,114.13 L164.20,114.12 L164.60,114.11 L165.00,114.09 L165.40,114.08 L165.80,114.06 L166.20,114.05 L166.60,114.03 L167.00,114.01 L167.40,113.99 L167.80,113.97 L168.20,113.95 L168.60,113.92 L169.00,113.89 L169.40,113.86 L169.80,113.83 L170.20,113.80 L170.60,113.76 L171.00,113.71 L171.40,113.67 L171.80,113.61 L172.20,113.55 L172.60,113.48 L173.00,113.40 L173.40,113.30 L173.80,113.19 L174.20,113.06 L174.60,112.90 L175.00,112.70 L175.40,112.47 L175.80,112.20 L176.20,111.86 L176.60,111.45 L177.00,110.96 L177.40,110.38 L177.80,109.67 L178.20,108.83 L178.60,107.84 L179.00,106.66 L179.40,105.29 L179.80,103.69 L180.20,101.83 L180.60,99.71 L181.00,97.29 L181.40,94.57 L181.80,91.52 L182.20,88.16 L182.60,84.47 L183.00,80.47 L183.40,76.19 L183.80,71.67 L184.20,66.95 L184.60,62.09 L185.00,57.17 L185.40,52.28 L185.80,47.52 L186.20,43.00 L186.60,38.84 L187.00,35.15 L187.40,32.06 L187.80,29.71 L188.20,28.22 L188.60,27.92 L189.00,30.00 L189.40,33.98 L189.80,39.37 L190.20,45.76 L190.60,52.76 L191.00,60.02 L191.40,67.23 L191.80,74.17 L192.20,80.63 L192.60,86.50 L193.00,91.70 L193.40,96.20 L193.80,100.03 L194.20,103.21 L194.60,105.80 L195.00,107.89 L195.40,109.53 L195.80,110.80 L196.20,111.76 L196.60,112.49 L197.00,113.02 L197.40,113.41 L197.80,113.69 L198.20,113.89 L198.60,114.03 L199.00,114.12 L199.40,114.18 L199.80,114.22 L200.20,114.25 L200.60,114.27 L201.00,114.28 L201.40,114.29 L201.80,114.29 L202.20,114.30 L202.60,114.30 L203.00,114.30 L203.40,114.30 L203.80,114.30 L204.20,114.30 L204.60,114.30 L205.00,114.30 L205.40,114.30 L205.80,114.30 L206.20,114.30 L206.60,114.30 L207.00,114.30 L207.40,114.30 L207.80,114.30 L208.20,114.30 L208.60,114.30 L209.00,114.30 L209.40,114.30 L209.80,114.30 L210.20,114.30 L210.60,114.30 L211.00,114.30 L211.40,114.30 L211.80,114.30 L212.20,114.30 L212.60,114.30 L213.00,114.30 L213.40,114.30 L213.80,114.30 L214.20,114.30 L214.60,114.30 L215.00,114.30 L215.40,114.30 L215.80,114.30 L216.20,114.30 L216.60,114.30 L217.00,114.30 L217.40,114.30 L217.80,114.30 L218.20,114.30 L218.60,114.30 L219.00,114.30 L219.40,114.30 L219.80,114.30 L220.20,114.30 L220.60,114.30 L221.00,114.30 L221.40,114.30 L221.80,114.30 L222.20,114.30 L222.60,114.30 L223.00,114.30 L223.40,114.30 L223.80,114.30 L224.20,114.30 L224.60,114.30 L225.00,114.30 L225.40,114.30 L225.80,114.30 L226.20,114.30 L226.60,114.30 L227.00,114.30 L227.40,114.30 L227.80,114.30 L228.20,114.30 L228.60,114.30 L229.00,114.30 L229.40,114.30 L229.80,114.30 L230.20,114.30 L230.60,114.30 L231.00,114.30 L231.40,114.30 L231.80,114.30 L232.20,114.30 L232.60,114.30 L233.00,114.30 L233.40,114.30 L233.80,114.30 L234.20,114.30 L234.60,114.30 L235.00,114.30 L235.40,114.30 L235.80,114.30 L236.20,114.30 L236.60,114.30 L237.00,114.30 L237.40,114.30 L237.80,114.30 L238.20,114.30 L238.60,114.30 L239.00,114.30 L239.40,114.30 L239.80,114.30 L240.20,114.30 L240.60,114.30 L241.00,114.30 L241.40,114.30 L241.80,114.30 L242.20,114.30" fill="none" stroke="#000" stroke-width="2.5"/>
<path d="M149.00,114.30 L149.40,114.30 L149.80,114.30 L150.20,114.30 L150.60,114.30 L151.00,114.30 L151.40,114.30 L151.80,114.30 L152.20,114.30 L152.60,114.30 L153.00,114.30 L153.40,114.30 L153.80,114.30 L154.20,114.30 L154.60,114.30 L155.00,114.30 L155.40,114.30 L155.80,114.30 L156.20,114.30 L156.60,114.30 L157.00,114.30 L157.40,114.30 L157.80,114.30 L158.20,114.30 L158.60,114.30 L159.00,114.30 L159.40,114.30 L159.80,114.30 L160.20,114.30 L160.60,114.30 L161.00,114.30 L161.40,114.30 L161.80,114.30 L162.20,114.30 L162.60,114.30 L163.00,114.30 L163.40,114.30 L163.80,114.30 L164.20,114.30 L164.60,114.30 L165.00,114.30 L165.40,114.30 L165.80,114.30 L166.20,114.30 L166.60,114.30 L167.00,114.30 L167.40,114.30 L167.80,114.30 L168.20,114.30 L168.60,114.30 L169.00,114.30 L169.40,114.30 L169.80,114.30 L170.20,114.30 L170.60,114.30 L171.00,114.30 L171.40,114.30 L171.80,114.30 L172.20,114.30 L172.60,114.30 L173.00,114.30 L173.40,114.30 L173.80,114.30 L174.20,114.30 L174.60,114.30 L175.00,114.30 L175.40,114.30 L175.80,114.30 L176.20,114.30 L176.60,114.30 L177.00,114.30 L177.40,114.30 L177.80,114.30 L178.20,114.29 L178.60,114.29 L179.00,114.28 L179.40,114.28 L179.80,114.27 L180.20,114.25 L180.60,114.23 L181.00,114.20 L181.40,114.16 L181.80,114.10 L182.20,114.02 L182.60,113.91 L183.00,113.76 L183.40,113.56 L183.80,113.31 L184.20,112.97 L184.60,112.53 L185.00,111.97 L185.40,111.25 L185.80,110.36 L186.20,109.25 L186.60,107.89 L187.00,106.23 L187.40,104.25 L187.80,101.89 L188.20,99.13 L188.60,95.94 L189.00,92.30 L189.40,88.20 L189.80,83.65 L190.20,78.67 L190.60,73.32 L191.00,67.68 L191.40,61.84 L191.80,55.92 L192.20,50.08 L192.60,44.50 L193.00,39.37 L193.40,34.89 L193.80,31.29 L194.20,28.82 L194.60,27.80 L195.00,28.82 L195.40,31.29 L195.80,34.89 L196.20,39.37 L196.60,44.50 L197.00,50.08 L197.40,55.92 L197.80,61.84 L198.20,67.68 L198.60,73.32 L199.00,78.67 L199.40,83.65 L199.80,88.20 L200.20,92.30 L200.60,95.94 L201.00,99.13 L201.40,101.89 L201.80,104.25 L202.20,106.23 L202.60,107.89 L203.00,109.25 L203.40,110.36 L203.80,111.25 L204.20,111.97 L204.60,112.53 L205.00,112.97 L205.40,113.31 L205.80,113.56 L206.20,113.76 L206.60,113.91 L207.00,114.02 L207.40,114.10 L207.80,114.16 L208.20,114.20 L208.60,114.23 L209.00,114.25 L209.40,114.27 L209.80,114.28 L210.20,114.28 L210.60,114.29 L211.00,114.29 L211.40,114.30 L211.80,114.30 L212.20,114.30 L212.60,114.30 L213.00,114.30 L213.40,114.30 L213.80,114.30 L214.20,114.30 L214.60,114.30 L215.00,114.30 L215.40,114.30 L215.80,114.30 L216.20,114.30 L216.60,114.30 L217.00,114.30 L217.40,114.30 L217.80,114.30 L218.20,114.30 L218.60,114.30 L219.00,114.30 L219.40,114.30 L219.80,114.30 L220.20,114.30 L220.60,114.30 L221.00,114.30 L221.40,114.30 L221.80,114.30 L222.20,114.30 L222.60,114.30 L223.00,114.30 L223.40,114.30 L223.80,114.30 L224.20,114.30 L224.60,114.30 L225.00,114.30 L225.40,114.30 L225.80,114.30 L226.20,114.30 L226.60,114.30 L227.00,114.30 L227.40,114.30 L227.80,114.30 L228.20,114.30 L228.60,114.30 L229.00,114.30 L229.40,114.30 L229.80,114.30 L230.20,114.30 L230.60,114.30 L231.00,114.30 L231.40,114.30 L231.80,114.30 L232.20,114.30 L232.60,114.30 L233.00,114.30 L233.40,114.30 L233.80,114.30 L234.20,114.30 L234.60,114.30 L235.00,114.30 L235.40,114.30 L235.80,114.30 L236.20,114.30 L236.60,114.30 L237.00,114.30 L237.40,114.30 L237.80,114.30 L238.20,114.30 L238.60,114.30 L239.00,114.30 L239.40,114.30 L239.80,114.30 L240.20,114.30 L240.60,114.30 L241.00,114.30 L241.40,114.30 L241.80,114.30 L242.20,114.30" fill="none" stroke="#000" stroke-width="1.7" stroke-dasharray="4,2.4"/>
<line x1="148.5" y1="114.6" x2="242.9" y2="114.6" stroke="#000" stroke-width="2.3"/>
<line x1="44.6" y1="241.2" x2="44.6" y2="243.8" stroke="#777" stroke-width="0.8"/>
<line x1="51.69" y1="241.2" x2="51.69" y2="243" stroke="#999" stroke-width="0.7"/>
<line x1="55.84" y1="241.2" x2="55.84" y2="243" stroke="#999" stroke-width="0.7"/>
<line x1="58.78" y1="241.2" x2="58.78" y2="243" stroke="#999" stroke-width="0.7"/>
<line x1="61.06" y1="241.2" x2="61.06" y2="243" stroke="#999" stroke-width="0.7"/>
<line x1="62.93" y1="241.2" x2="62.93" y2="243" stroke="#999" stroke-width="0.7"/>
<line x1="64.5" y1="241.2" x2="64.5" y2="243" stroke="#999" stroke-width="0.7"/>
<line x1="65.87" y1="241.2" x2="65.87" y2="243" stroke="#999" stroke-width="0.7"/>
<line x1="67.07" y1="241.2" x2="67.07" y2="243" stroke="#999" stroke-width="0.7"/>
<line x1="68.15" y1="241.2" x2="68.15" y2="243.8" stroke="#777" stroke-width="0.8"/>
<line x1="75.24" y1="241.2" x2="75.24" y2="243" stroke="#999" stroke-width="0.7"/>
<line x1="79.39" y1="241.2" x2="79.39" y2="243" stroke="#999" stroke-width="0.7"/>
<line x1="82.33" y1="241.2" x2="82.33" y2="243" stroke="#999" stroke-width="0.7"/>
<line x1="84.61" y1="241.2" x2="84.61" y2="243" stroke="#999" stroke-width="0.7"/>
<line x1="86.48" y1="241.2" x2="86.48" y2="243" stroke="#999" stroke-width="0.7"/>
<line x1="88.05" y1="241.2" x2="88.05" y2="243" stroke="#999" stroke-width="0.7"/>
<line x1="89.42" y1="241.2" x2="89.42" y2="243" stroke="#999" stroke-width="0.7"/>
<line x1="90.62" y1="241.2" x2="90.62" y2="243" stroke="#999" stroke-width="0.7"/>
<line x1="91.7" y1="241.2" x2="91.7" y2="243.8" stroke="#777" stroke-width="0.8"/>
<line x1="98.79" y1="241.2" x2="98.79" y2="243" stroke="#999" stroke-width="0.7"/>
<line x1="102.94" y1="241.2" x2="102.94" y2="243" stroke="#999" stroke-width="0.7"/>
<line x1="105.88" y1="241.2" x2="105.88" y2="243" stroke="#999" stroke-width="0.7"/>
<line x1="108.16" y1="241.2" x2="108.16" y2="243" stroke="#999" stroke-width="0.7"/>
<line x1="110.03" y1="241.2" x2="110.03" y2="243" stroke="#999" stroke-width="0.7"/>
<line x1="111.6" y1="241.2" x2="111.6" y2="243" stroke="#999" stroke-width="0.7"/>
<line x1="112.97" y1="241.2" x2="112.97" y2="243" stroke="#999" stroke-width="0.7"/>
<line x1="114.17" y1="241.2" x2="114.17" y2="243" stroke="#999" stroke-width="0.7"/>
<line x1="115.25" y1="241.2" x2="115.25" y2="243.8" stroke="#777" stroke-width="0.8"/>
<line x1="122.34" y1="241.2" x2="122.34" y2="243" stroke="#999" stroke-width="0.7"/>
<line x1="126.49" y1="241.2" x2="126.49" y2="243" stroke="#999" stroke-width="0.7"/>
<line x1="129.43" y1="241.2" x2="129.43" y2="243" stroke="#999" stroke-width="0.7"/>
<line x1="131.71" y1="241.2" x2="131.71" y2="243" stroke="#999" stroke-width="0.7"/>
<line x1="133.58" y1="241.2" x2="133.58" y2="243" stroke="#999" stroke-width="0.7"/>
<line x1="135.15" y1="241.2" x2="135.15" y2="243" stroke="#999" stroke-width="0.7"/>
<line x1="136.52" y1="241.2" x2="136.52" y2="243" stroke="#999" stroke-width="0.7"/>
<line x1="137.72" y1="241.2" x2="137.72" y2="243" stroke="#999" stroke-width="0.7"/>
<line x1="138.8" y1="241.2" x2="138.8" y2="243.8" stroke="#777" stroke-width="0.8"/>
<rect x="44.6" y="147.5" width="94.2" height="92.9" fill="none" stroke="#8a8a8a" stroke-width="1"/>
<line x1="44.6" y1="147.5" x2="44.6" y2="240.4" stroke="#666" stroke-width="1"/>
<line x1="42.2" y1="151.5" x2="44.6" y2="151.5" stroke="#777" stroke-width="0.8"/>
<line x1="42.2" y1="169.3" x2="44.6" y2="169.3" stroke="#777" stroke-width="0.8"/>
<line x1="42.2" y1="187.1" x2="44.6" y2="187.1" stroke="#777" stroke-width="0.8"/>
<line x1="42.2" y1="204.9" x2="44.6" y2="204.9" stroke="#777" stroke-width="0.8"/>
<line x1="42.2" y1="222.7" x2="44.6" y2="222.7" stroke="#777" stroke-width="0.8"/>
<line x1="42.2" y1="240.5" x2="44.6" y2="240.5" stroke="#777" stroke-width="0.8"/>
<line x1="43.3" y1="156.86" x2="44.6" y2="156.86" stroke="#aaa" stroke-width="0.5"/>
<line x1="43.3" y1="159.99" x2="44.6" y2="159.99" stroke="#aaa" stroke-width="0.5"/>
<line x1="43.3" y1="162.22" x2="44.6" y2="162.22" stroke="#aaa" stroke-width="0.5"/>
<line x1="43.3" y1="163.94" x2="44.6" y2="163.94" stroke="#aaa" stroke-width="0.5"/>
<line x1="43.3" y1="165.35" x2="44.6" y2="165.35" stroke="#aaa" stroke-width="0.5"/>
<line x1="43.3" y1="166.54" x2="44.6" y2="166.54" stroke="#aaa" stroke-width="0.5"/>
<line x1="43.3" y1="167.58" x2="44.6" y2="167.58" stroke="#aaa" stroke-width="0.5"/>
<line x1="43.3" y1="168.49" x2="44.6" y2="168.49" stroke="#aaa" stroke-width="0.5"/>
<line x1="43.3" y1="174.66" x2="44.6" y2="174.66" stroke="#aaa" stroke-width="0.5"/>
<line x1="43.3" y1="177.79" x2="44.6" y2="177.79" stroke="#aaa" stroke-width="0.5"/>
<line x1="43.3" y1="180.02" x2="44.6" y2="180.02" stroke="#aaa" stroke-width="0.5"/>
<line x1="43.3" y1="181.74" x2="44.6" y2="181.74" stroke="#aaa" stroke-width="0.5"/>
<line x1="43.3" y1="183.15" x2="44.6" y2="183.15" stroke="#aaa" stroke-width="0.5"/>
<line x1="43.3" y1="184.34" x2="44.6" y2="184.34" stroke="#aaa" stroke-width="0.5"/>
<line x1="43.3" y1="185.38" x2="44.6" y2="185.38" stroke="#aaa" stroke-width="0.5"/>
<line x1="43.3" y1="186.29" x2="44.6" y2="186.29" stroke="#aaa" stroke-width="0.5"/>
<line x1="43.3" y1="192.46" x2="44.6" y2="192.46" stroke="#aaa" stroke-width="0.5"/>
<line x1="43.3" y1="195.59" x2="44.6" y2="195.59" stroke="#aaa" stroke-width="0.5"/>
<line x1="43.3" y1="197.82" x2="44.6" y2="197.82" stroke="#aaa" stroke-width="0.5"/>
<line x1="43.3" y1="199.54" x2="44.6" y2="199.54" stroke="#aaa" stroke-width="0.5"/>
<line x1="43.3" y1="200.95" x2="44.6" y2="200.95" stroke="#aaa" stroke-width="0.5"/>
<line x1="43.3" y1="202.14" x2="44.6" y2="202.14" stroke="#aaa" stroke-width="0.5"/>
<line x1="43.3" y1="203.18" x2="44.6" y2="203.18" stroke="#aaa" stroke-width="0.5"/>
<line x1="43.3" y1="204.09" x2="44.6" y2="204.09" stroke="#aaa" stroke-width="0.5"/>
<line x1="43.3" y1="210.26" x2="44.6" y2="210.26" stroke="#aaa" stroke-width="0.5"/>
<line x1="43.3" y1="213.39" x2="44.6" y2="213.39" stroke="#aaa" stroke-width="0.5"/>
<line x1="43.3" y1="215.62" x2="44.6" y2="215.62" stroke="#aaa" stroke-width="0.5"/>
<line x1="43.3" y1="217.34" x2="44.6" y2="217.34" stroke="#aaa" stroke-width="0.5"/>
<line x1="43.3" y1="218.75" x2="44.6" y2="218.75" stroke="#aaa" stroke-width="0.5"/>
<line x1="43.3" y1="219.94" x2="44.6" y2="219.94" stroke="#aaa" stroke-width="0.5"/>
<line x1="43.3" y1="220.98" x2="44.6" y2="220.98" stroke="#aaa" stroke-width="0.5"/>
<line x1="43.3" y1="221.89" x2="44.6" y2="221.89" stroke="#aaa" stroke-width="0.5"/>
<line x1="43.3" y1="228.06" x2="44.6" y2="228.06" stroke="#aaa" stroke-width="0.5"/>
<line x1="43.3" y1="231.19" x2="44.6" y2="231.19" stroke="#aaa" stroke-width="0.5"/>
<line x1="43.3" y1="233.42" x2="44.6" y2="233.42" stroke="#aaa" stroke-width="0.5"/>
<line x1="43.3" y1="235.14" x2="44.6" y2="235.14" stroke="#aaa" stroke-width="0.5"/>
<line x1="43.3" y1="236.55" x2="44.6" y2="236.55" stroke="#aaa" stroke-width="0.5"/>
<line x1="43.3" y1="237.74" x2="44.6" y2="237.74" stroke="#aaa" stroke-width="0.5"/>
<line x1="43.3" y1="238.78" x2="44.6" y2="238.78" stroke="#aaa" stroke-width="0.5"/>
<line x1="43.3" y1="239.69" x2="44.6" y2="239.69" stroke="#aaa" stroke-width="0.5"/>
<path d="M45.10,240.23 L45.50,240.10 L45.90,239.92 L46.30,239.67 L46.70,239.33 L47.10,238.87 L47.50,238.25 L47.90,237.42 L48.30,236.36 L48.70,234.98 L49.10,233.25 L49.50,231.09 L49.90,228.45 L50.30,225.26 L50.70,221.49 L51.10,217.10 L51.50,212.09 L51.90,206.48 L52.30,200.34 L52.70,193.77 L53.10,186.93 L53.50,180.02 L53.90,173.29 L54.30,167.03 L54.70,161.56 L55.10,157.22 L55.50,154.40 L55.90,153.75 L56.30,156.34 L56.70,161.27 L57.10,167.85 L57.50,175.49 L57.90,183.66 L58.30,191.89 L58.70,199.81 L59.10,207.15 L59.50,213.71 L59.90,219.40 L60.30,224.20 L60.70,228.15 L61.10,231.31 L61.50,233.79 L61.90,235.69 L62.30,237.11 L62.70,238.15 L63.10,238.91 L63.50,239.43 L63.90,239.80 L64.30,240.05 L64.70,240.21 L65.10,240.32 L65.50,240.39 L65.90,240.43 L66.30,240.46 L66.70,240.48 L67.10,240.49 L67.50,240.49 L67.90,240.50 L68.30,240.50 L68.70,240.50 L69.10,240.50 L69.50,240.50 L69.90,240.50 L70.30,240.50 L70.70,240.50 L71.10,240.50 L71.50,240.50 L71.90,240.50 L72.30,240.50 L72.70,240.50 L73.10,240.50 L73.50,240.50 L73.90,240.50 L74.30,240.50 L74.70,240.50 L75.10,240.50 L75.50,240.50 L75.90,240.50 L76.30,240.50 L76.70,240.50 L77.10,240.50 L77.50,240.50 L77.90,240.50 L78.30,240.50 L78.70,240.50 L79.10,240.50 L79.50,240.50 L79.90,240.50 L80.30,240.50 L80.70,240.50 L81.10,240.50 L81.50,240.50 L81.90,240.50 L82.30,240.50 L82.70,240.50 L83.10,240.50 L83.50,240.50 L83.90,240.50 L84.30,240.50 L84.70,240.50 L85.10,240.50 L85.50,240.50 L85.90,240.50 L86.30,240.50 L86.70,240.50 L87.10,240.50 L87.50,240.50 L87.90,240.50 L88.30,240.50 L88.70,240.50 L89.10,240.50 L89.50,240.50 L89.90,240.50 L90.30,240.50 L90.70,240.50 L91.10,240.50 L91.50,240.50 L91.90,240.50 L92.30,240.50 L92.70,240.50 L93.10,240.50 L93.50,240.50 L93.90,240.50 L94.30,240.50 L94.70,240.50 L95.10,240.50 L95.50,240.50 L95.90,240.50 L96.30,240.50 L96.70,240.50 L97.10,240.50 L97.50,240.50 L97.90,240.50 L98.30,240.50 L98.70,240.50 L99.10,240.50 L99.50,240.50 L99.90,240.50 L100.30,240.50 L100.70,240.50 L101.10,240.50 L101.50,240.50 L101.90,240.50 L102.30,240.50 L102.70,240.50 L103.10,240.50 L103.50,240.50 L103.90,240.50 L104.30,240.50 L104.70,240.50 L105.10,240.50 L105.50,240.50 L105.90,240.50 L106.30,240.50 L106.70,240.50 L107.10,240.50 L107.50,240.50 L107.90,240.50 L108.30,240.50 L108.70,240.50 L109.10,240.50 L109.50,240.50 L109.90,240.50 L110.30,240.50 L110.70,240.50 L111.10,240.50 L111.50,240.50 L111.90,240.50 L112.30,240.50 L112.70,240.50 L113.10,240.50 L113.50,240.50 L113.90,240.50 L114.30,240.50 L114.70,240.50 L115.10,240.50 L115.50,240.50 L115.90,240.50 L116.30,240.50 L116.70,240.50 L117.10,240.50 L117.50,240.50 L117.90,240.50 L118.30,240.50 L118.70,240.50 L119.10,240.50 L119.50,240.50 L119.90,240.50 L120.30,240.50 L120.70,240.50 L121.10,240.50 L121.50,240.50 L121.90,240.50 L122.30,240.50 L122.70,240.50 L123.10,240.50 L123.50,240.50 L123.90,240.50 L124.30,240.50 L124.70,240.50 L125.10,240.50 L125.50,240.50 L125.90,240.50 L126.30,240.50 L126.70,240.50 L127.10,240.50 L127.50,240.50 L127.90,240.50 L128.30,240.50 L128.70,240.50 L129.10,240.50 L129.50,240.50 L129.90,240.50 L130.30,240.50 L130.70,240.50 L131.10,240.50 L131.50,240.50 L131.90,240.50 L132.30,240.50 L132.70,240.50 L133.10,240.50 L133.50,240.50 L133.90,240.50 L134.30,240.50 L134.70,240.50 L135.10,240.50 L135.50,240.50 L135.90,240.50 L136.30,240.50 L136.70,240.50 L137.10,240.50 L137.50,240.50 L137.90,240.50 L138.30,240.50 L138.30,240.50 L45.10,240.50 Z" fill="#8e8e8e" stroke="none"/>
<path d="M45.10,240.50 L45.50,240.50 L45.90,240.50 L46.30,240.50 L46.70,240.50 L47.10,240.50 L47.50,240.50 L47.90,240.50 L48.30,240.50 L48.70,240.50 L49.10,240.49 L49.50,240.49 L49.90,240.49 L50.30,240.48 L50.70,240.47 L51.10,240.46 L51.50,240.44 L51.90,240.41 L52.30,240.37 L52.70,240.31 L53.10,240.24 L53.50,240.14 L53.90,240.00 L54.30,239.82 L54.70,239.57 L55.10,239.26 L55.50,238.84 L55.90,238.31 L56.30,237.64 L56.70,236.79 L57.10,235.74 L57.50,234.44 L57.90,232.86 L58.30,230.95 L58.70,228.69 L59.10,226.03 L59.50,222.94 L59.90,219.41 L60.30,215.41 L60.70,210.96 L61.10,206.07 L61.50,200.80 L61.90,195.21 L62.30,189.39 L62.70,183.47 L63.10,177.58 L63.50,171.91 L63.90,166.63 L64.30,161.96 L64.70,158.11 L65.10,155.32 L65.50,153.88 L65.90,154.27 L66.30,155.94 L66.70,158.55 L67.10,161.93 L67.50,165.92 L67.90,170.40 L68.30,175.21 L68.70,180.23 L69.10,185.35 L69.50,190.46 L69.90,195.48 L70.30,200.32 L70.70,204.93 L71.10,209.26 L71.50,213.27 L71.90,216.95 L72.30,220.28 L72.70,223.28 L73.10,225.93 L73.50,228.27 L73.90,230.31 L74.30,232.06 L74.70,233.57 L75.10,234.84 L75.50,235.92 L75.90,236.81 L76.30,237.55 L76.70,238.16 L77.10,238.66 L77.50,239.06 L77.90,239.38 L78.30,239.63 L78.70,239.83 L79.10,239.99 L79.50,240.11 L79.90,240.21 L80.30,240.28 L80.70,240.34 L81.10,240.38 L81.50,240.41 L81.90,240.44 L82.30,240.45 L82.70,240.47 L83.10,240.48 L83.50,240.48 L83.90,240.49 L84.30,240.49 L84.70,240.49 L85.10,240.50 L85.50,240.50 L85.90,240.50 L86.30,240.50 L86.70,240.50 L87.10,240.50 L87.50,240.50 L87.90,240.50 L88.30,240.50 L88.70,240.50 L89.10,240.50 L89.50,240.50 L89.90,240.50 L90.30,240.50 L90.70,240.50 L91.10,240.50 L91.50,240.50 L91.90,240.50 L92.30,240.50 L92.70,240.50 L93.10,240.50 L93.50,240.50 L93.90,240.50 L94.30,240.50 L94.70,240.50 L95.10,240.50 L95.50,240.50 L95.90,240.50 L96.30,240.50 L96.70,240.50 L97.10,240.50 L97.50,240.50 L97.90,240.50 L98.30,240.50 L98.70,240.50 L99.10,240.50 L99.50,240.50 L99.90,240.50 L100.30,240.50 L100.70,240.50 L101.10,240.50 L101.50,240.50 L101.90,240.50 L102.30,240.50 L102.70,240.50 L103.10,240.50 L103.50,240.50 L103.90,240.50 L104.30,240.50 L104.70,240.50 L105.10,240.50 L105.50,240.50 L105.90,240.50 L106.30,240.50 L106.70,240.50 L107.10,240.50 L107.50,240.50 L107.90,240.50 L108.30,240.50 L108.70,240.50 L109.10,240.50 L109.50,240.50 L109.90,240.50 L110.30,240.50 L110.70,240.50 L111.10,240.50 L111.50,240.50 L111.90,240.50 L112.30,240.50 L112.70,240.50 L113.10,240.50 L113.50,240.50 L113.90,240.50 L114.30,240.50 L114.70,240.50 L115.10,240.50 L115.50,240.50 L115.90,240.50 L116.30,240.50 L116.70,240.50 L117.10,240.50 L117.50,240.50 L117.90,240.50 L118.30,240.50 L118.70,240.50 L119.10,240.50 L119.50,240.50 L119.90,240.50 L120.30,240.50 L120.70,240.50 L121.10,240.50 L121.50,240.50 L121.90,240.50 L122.30,240.50 L122.70,240.50 L123.10,240.50 L123.50,240.50 L123.90,240.50 L124.30,240.50 L124.70,240.50 L125.10,240.50 L125.50,240.50 L125.90,240.50 L126.30,240.50 L126.70,240.50 L127.10,240.50 L127.50,240.50 L127.90,240.50 L128.30,240.50 L128.70,240.50 L129.10,240.50 L129.50,240.50 L129.90,240.50 L130.30,240.50 L130.70,240.50 L131.10,240.50 L131.50,240.50 L131.90,240.50 L132.30,240.50 L132.70,240.50 L133.10,240.50 L133.50,240.50 L133.90,240.50 L134.30,240.50 L134.70,240.50 L135.10,240.50 L135.50,240.50 L135.90,240.50 L136.30,240.50 L136.70,240.50 L137.10,240.50 L137.50,240.50 L137.90,240.50 L138.30,240.50" fill="none" stroke="#000" stroke-width="1.3"/>
<path d="M45.10,240.50 L45.50,240.50 L45.90,240.50 L46.30,240.50 L46.70,240.50 L47.10,240.50 L47.50,240.50 L47.90,240.50 L48.30,240.50 L48.70,240.50 L49.10,240.50 L49.50,240.50 L49.90,240.50 L50.30,240.50 L50.70,240.50 L51.10,240.50 L51.50,240.50 L51.90,240.50 L52.30,240.50 L52.70,240.50 L53.10,240.50 L53.50,240.50 L53.90,240.50 L54.30,240.50 L54.70,240.50 L55.10,240.50 L55.50,240.50 L55.90,240.50 L56.30,240.50 L56.70,240.50 L57.10,240.50 L57.50,240.50 L57.90,240.50 L58.30,240.50 L58.70,240.50 L59.10,240.50 L59.50,240.50 L59.90,240.50 L60.30,240.50 L60.70,240.50 L61.10,240.50 L61.50,240.50 L61.90,240.50 L62.30,240.50 L62.70,240.50 L63.10,240.50 L63.50,240.50 L63.90,240.50 L64.30,240.50 L64.70,240.50 L65.10,240.50 L65.50,240.50 L65.90,240.50 L66.30,240.50 L66.70,240.50 L67.10,240.50 L67.50,240.50 L67.90,240.50 L68.30,240.50 L68.70,240.50 L69.10,240.50 L69.50,240.50 L69.90,240.50 L70.30,240.50 L70.70,240.50 L71.10,240.50 L71.50,240.50 L71.90,240.50 L72.30,240.50 L72.70,240.50 L73.10,240.50 L73.50,240.50 L73.90,240.50 L74.30,240.50 L74.70,240.50 L75.10,240.50 L75.50,240.50 L75.90,240.50 L76.30,240.50 L76.70,240.50 L77.10,240.50 L77.50,240.50 L77.90,240.50 L78.30,240.50 L78.70,240.50 L79.10,240.50 L79.50,240.49 L79.90,240.49 L80.30,240.49 L80.70,240.48 L81.10,240.48 L81.50,240.47 L81.90,240.45 L82.30,240.44 L82.70,240.42 L83.10,240.39 L83.50,240.35 L83.90,240.30 L84.30,240.24 L84.70,240.15 L85.10,240.05 L85.50,239.92 L85.90,239.75 L86.30,239.53 L86.70,239.27 L87.10,238.94 L87.50,238.54 L87.90,238.05 L88.30,237.45 L88.70,236.74 L89.10,235.88 L89.50,234.86 L89.90,233.66 L90.30,232.25 L90.70,230.63 L91.10,228.75 L91.50,226.61 L91.90,224.19 L92.30,221.48 L92.70,218.45 L93.10,215.13 L93.50,211.50 L93.90,207.57 L94.30,203.39 L94.70,198.96 L95.10,194.35 L95.50,189.60 L95.90,184.78 L96.30,179.98 L96.70,175.28 L97.10,170.78 L97.50,166.59 L97.90,162.82 L98.30,159.60 L98.70,157.05 L99.10,155.31 L99.50,154.60 L99.90,155.28 L100.30,156.94 L100.70,159.38 L101.10,162.47 L101.50,166.09 L101.90,170.13 L102.30,174.47 L102.70,179.03 L103.10,183.70 L103.50,188.40 L103.90,193.05 L104.30,197.60 L104.70,201.97 L105.10,206.14 L105.50,210.06 L105.90,213.71 L106.30,217.08 L106.70,220.15 L107.10,222.94 L107.50,225.44 L107.90,227.66 L108.30,229.63 L108.70,231.35 L109.10,232.84 L109.50,234.13 L109.90,235.23 L110.30,236.17 L110.70,236.96 L111.10,237.63 L111.50,238.18 L111.90,238.64 L112.30,239.01 L112.70,239.32 L113.10,239.57 L113.50,239.77 L113.90,239.93 L114.30,240.06 L114.70,240.16 L115.10,240.24 L115.50,240.30 L115.90,240.35 L116.30,240.39 L116.70,240.41 L117.10,240.44 L117.50,240.45 L117.90,240.46 L118.30,240.47 L118.70,240.48 L119.10,240.49 L119.50,240.49 L119.90,240.49 L120.30,240.49 L120.70,240.50 L121.10,240.50 L121.50,240.50 L121.90,240.50 L122.30,240.50 L122.70,240.50 L123.10,240.50 L123.50,240.50 L123.90,240.50 L124.30,240.50 L124.70,240.50 L125.10,240.50 L125.50,240.50 L125.90,240.50 L126.30,240.50 L126.70,240.50 L127.10,240.50 L127.50,240.50 L127.90,240.50 L128.30,240.50 L128.70,240.50 L129.10,240.50 L129.50,240.50 L129.90,240.50 L130.30,240.50 L130.70,240.50 L131.10,240.50 L131.50,240.50 L131.90,240.50 L132.30,240.50 L132.70,240.50 L133.10,240.50 L133.50,240.50 L133.90,240.50 L134.30,240.50 L134.70,240.50 L135.10,240.50 L135.50,240.50 L135.90,240.50 L136.30,240.50 L136.70,240.50 L137.10,240.50 L137.50,240.50 L137.90,240.50 L138.30,240.50" fill="none" stroke="#000" stroke-width="2.5"/>
<path d="M45.10,240.50 L45.50,240.50 L45.90,240.50 L46.30,240.50 L46.70,240.50 L47.10,240.50 L47.50,240.50 L47.90,240.50 L48.30,240.50 L48.70,240.50 L49.10,240.50 L49.50,240.50 L49.90,240.50 L50.30,240.50 L50.70,240.50 L51.10,240.50 L51.50,240.50 L51.90,240.50 L52.30,240.50 L52.70,240.50 L53.10,240.50 L53.50,240.50 L53.90,240.50 L54.30,240.50 L54.70,240.50 L55.10,240.50 L55.50,240.50 L55.90,240.50 L56.30,240.50 L56.70,240.50 L57.10,240.50 L57.50,240.50 L57.90,240.50 L58.30,240.50 L58.70,240.50 L59.10,240.50 L59.50,240.50 L59.90,240.50 L60.30,240.50 L60.70,240.50 L61.10,240.50 L61.50,240.50 L61.90,240.50 L62.30,240.50 L62.70,240.50 L63.10,240.50 L63.50,240.50 L63.90,240.50 L64.30,240.50 L64.70,240.50 L65.10,240.50 L65.50,240.50 L65.90,240.50 L66.30,240.50 L66.70,240.50 L67.10,240.50 L67.50,240.50 L67.90,240.50 L68.30,240.50 L68.70,240.50 L69.10,240.50 L69.50,240.50 L69.90,240.50 L70.30,240.50 L70.70,240.50 L71.10,240.50 L71.50,240.50 L71.90,240.50 L72.30,240.50 L72.70,240.50 L73.10,240.50 L73.50,240.50 L73.90,240.50 L74.30,240.50 L74.70,240.50 L75.10,240.50 L75.50,240.50 L75.90,240.50 L76.30,240.50 L76.70,240.50 L77.10,240.50 L77.50,240.50 L77.90,240.50 L78.30,240.50 L78.70,240.50 L79.10,240.50 L79.50,240.50 L79.90,240.50 L80.30,240.50 L80.70,240.50 L81.10,240.50 L81.50,240.50 L81.90,240.50 L82.30,240.50 L82.70,240.50 L83.10,240.50 L83.50,240.50 L83.90,240.50 L84.30,240.50 L84.70,240.50 L85.10,240.50 L85.50,240.50 L85.90,240.50 L86.30,240.49 L86.70,240.49 L87.10,240.48 L87.50,240.48 L87.90,240.46 L88.30,240.45 L88.70,240.42 L89.10,240.39 L89.50,240.35 L89.90,240.28 L90.30,240.20 L90.70,240.08 L91.10,239.92 L91.50,239.71 L91.90,239.44 L92.30,239.08 L92.70,238.61 L93.10,238.02 L93.50,237.27 L93.90,236.33 L94.30,235.17 L94.70,233.75 L95.10,232.03 L95.50,229.97 L95.90,227.53 L96.30,224.69 L96.70,221.41 L97.10,217.68 L97.50,213.49 L97.90,208.86 L98.30,203.82 L98.70,198.43 L99.10,192.77 L99.50,186.93 L99.90,181.06 L100.30,175.31 L100.70,169.86 L101.10,164.91 L101.50,160.66 L101.90,157.34 L102.30,155.20 L102.70,154.66 L103.10,155.76 L103.50,157.91 L103.90,160.89 L104.30,164.57 L104.70,168.78 L105.10,173.39 L105.50,178.28 L105.90,183.32 L106.30,188.40 L106.70,193.43 L107.10,198.32 L107.50,203.01 L107.90,207.44 L108.30,211.57 L108.70,215.38 L109.10,218.86 L109.50,221.99 L109.90,224.79 L110.30,227.26 L110.70,229.43 L111.10,231.30 L111.50,232.92 L111.90,234.29 L112.30,235.45 L112.70,236.42 L113.10,237.23 L113.50,237.90 L113.90,238.44 L114.30,238.88 L114.70,239.24 L115.10,239.52 L115.50,239.75 L115.90,239.92 L116.30,240.06 L116.70,240.17 L117.10,240.25 L117.50,240.31 L117.90,240.36 L118.30,240.40 L118.70,240.43 L119.10,240.45 L119.50,240.46 L119.90,240.47 L120.30,240.48 L120.70,240.49 L121.10,240.49 L121.50,240.49 L121.90,240.50 L122.30,240.50 L122.70,240.50 L123.10,240.50 L123.50,240.50 L123.90,240.50 L124.30,240.50 L124.70,240.50 L125.10,240.50 L125.50,240.50 L125.90,240.50 L126.30,240.50 L126.70,240.50 L127.10,240.50 L127.50,240.50 L127.90,240.50 L128.30,240.50 L128.70,240.50 L129.10,240.50 L129.50,240.50 L129.90,240.50 L130.30,240.50 L130.70,240.50 L131.10,240.50 L131.50,240.50 L131.90,240.50 L132.30,240.50 L132.70,240.50 L133.10,240.50 L133.50,240.50 L133.90,240.50 L134.30,240.50 L134.70,240.50 L135.10,240.50 L135.50,240.50 L135.90,240.50 L136.30,240.50 L136.70,240.50 L137.10,240.50 L137.50,240.50 L137.90,240.50 L138.30,240.50" fill="none" stroke="#000" stroke-width="1.7" stroke-dasharray="4,2.4"/>
<line x1="44.6" y1="240.5" x2="138.8" y2="240.5" stroke="#000" stroke-width="2.3"/>
<rect x="144.4" y="157.1" width="16.5" height="5.5" fill="#8e8e8e"/>
<line x1="144.1" y1="174.5" x2="160.3" y2="174.5" stroke="#000" stroke-width="1.1"/>
<line x1="144.1" y1="188.3" x2="160.3" y2="188.3" stroke="#000" stroke-width="2.5"/>
<line x1="144.1" y1="201.8" x2="160.3" y2="201.8" stroke="#000" stroke-width="1.9" stroke-dasharray="4,1.9"/>
<text x="164.51" y="162.4" font-size="9.3" textLength="32.65" lengthAdjust="spacingAndGlyphs" style="stroke-width:0.1px">Isotype</text>
<text x="164.12" y="176" font-size="9.3" textLength="41.57" lengthAdjust="spacingAndGlyphs" style="stroke-width:0.1px">B16-Kb<tspan font-size="6.3" dy="-3.2">Lo</tspan></text>
<text x="164.14" y="190.5" font-size="9.3" textLength="64.06" lengthAdjust="spacingAndGlyphs" style="stroke-width:0.1px">B16-Kb<tspan font-size="6.3" dy="-3.2">Lo</tspan><tspan dy="3.2">/IFN</tspan><tspan font-size="6.6" dy="1.3">&#947;</tspan></text>
<text x="164.65" y="205.2" font-size="9.3" textLength="40.83" lengthAdjust="spacingAndGlyphs" style="stroke-width:0.1px">B16/IFN<tspan font-size="6.6" dy="1.3">&#947;</tspan></text>
<text x="302.42" y="20.2" font-size="14" textLength="9.99" lengthAdjust="spacingAndGlyphs" font-weight="bold">B</text>
<text x="371.66" y="40.2" font-size="12.6" textLength="41.83" lengthAdjust="spacingAndGlyphs">Trp1<tspan font-size="9" dy="2.8">455</tspan></text>
<text x="457.27" y="39.7" font-size="12.6" textLength="42.17" lengthAdjust="spacingAndGlyphs">Trp2<tspan font-size="9" dy="2.6">180</tspan></text>
<text transform="translate(337.7,121.6) rotate(-90)" font-size="11.3" text-anchor="middle" textLength="157" lengthAdjust="spacingAndGlyphs">IFN<tspan font-size="7" dy="0.8">&#947;</tspan><tspan dy="-0.8"> spots/1 x 10</tspan><tspan font-size="7.6" dy="-4.4">5</tspan><tspan dy="4.4"> CD8</tspan><tspan font-size="7.6" dy="-4.4">+</tspan><tspan dy="4.4"> T cells</tspan></text>
<line x1="364.4" y1="57.3" x2="364.4" y2="188.4" stroke="#000" stroke-width="1.4"/>
<line x1="363.7" y1="187.7" x2="422.7" y2="187.7" stroke="#000" stroke-width="1.4"/>
<line x1="361.4" y1="187.7" x2="364.4" y2="187.7" stroke="#000" stroke-width="1"/>
<text x="360.8" y="190.8" font-size="7.4" text-anchor="end">0</text>
<line x1="361.4" y1="158.7" x2="364.4" y2="158.7" stroke="#000" stroke-width="1"/>
<text x="360.8" y="161.8" font-size="7.4" text-anchor="end">300</text>
<line x1="361.4" y1="129.7" x2="364.4" y2="129.7" stroke="#000" stroke-width="1"/>
<text x="360.8" y="132.8" font-size="7.4" text-anchor="end">600</text>
<line x1="361.4" y1="100.7" x2="364.4" y2="100.7" stroke="#000" stroke-width="1"/>
<text x="360.8" y="103.8" font-size="7.4" text-anchor="end">900</text>
<line x1="361.4" y1="71.7" x2="364.4" y2="71.7" stroke="#000" stroke-width="1"/>
<text x="360.8" y="74.8" font-size="7.4" text-anchor="end">1200</text>
<rect x="368.6" y="66.87" width="20.1" height="120.83" fill="#000"/>
<line x1="378.65" y1="62" x2="378.65" y2="66.87" stroke="#000" stroke-width="1.3"/>
<line x1="373.55" y1="62" x2="383.75" y2="62" stroke="#000" stroke-width="1.5"/>
<line x1="378.65" y1="187.7" x2="378.65" y2="190.7" stroke="#000" stroke-width="1"/>
<rect x="397.7" y="69.77" width="19.8" height="117.93" fill="#000"/>
<line x1="407.6" y1="64.3" x2="407.6" y2="69.77" stroke="#000" stroke-width="1.3"/>
<line x1="402.5" y1="64.3" x2="412.7" y2="64.3" stroke="#000" stroke-width="1.5"/>
<line x1="407.6" y1="187.7" x2="407.6" y2="190.7" stroke="#000" stroke-width="1"/>
<line x1="449.8" y1="57.3" x2="449.8" y2="188.4" stroke="#000" stroke-width="1.4"/>
<line x1="449.1" y1="187.7" x2="508" y2="187.7" stroke="#000" stroke-width="1.4"/>
<line x1="446.8" y1="187.7" x2="449.8" y2="187.7" stroke="#000" stroke-width="1"/>
<text x="446.2" y="190.8" font-size="7.4" text-anchor="end">0</text>
<line x1="446.8" y1="158.7" x2="449.8" y2="158.7" stroke="#000" stroke-width="1"/>
<text x="446.2" y="161.8" font-size="7.4" text-anchor="end">300</text>
<line x1="446.8" y1="129.7" x2="449.8" y2="129.7" stroke="#000" stroke-width="1"/>
<text x="446.2" y="132.8" font-size="7.4" text-anchor="end">600</text>
<line x1="446.8" y1="100.7" x2="449.8" y2="100.7" stroke="#000" stroke-width="1"/>
<text x="446.2" y="103.8" font-size="7.4" text-anchor="end">900</text>
<line x1="446.8" y1="71.7" x2="449.8" y2="71.7" stroke="#000" stroke-width="1"/>
<text x="446.2" y="74.8" font-size="7.4" text-anchor="end">1200</text>
<rect x="454.4" y="69.77" width="19.9" height="117.93" fill="#000"/>
<line x1="464.35" y1="67.8" x2="464.35" y2="69.77" stroke="#000" stroke-width="1.3"/>
<line x1="459.05" y1="67.8" x2="469.65" y2="67.8" stroke="#000" stroke-width="1.5"/>
<line x1="464.35" y1="187.7" x2="464.35" y2="190.7" stroke="#000" stroke-width="1"/>
<rect x="483.5" y="90.07" width="19.5" height="97.63" fill="#000"/>
<line x1="493.25" y1="88.5" x2="493.25" y2="90.07" stroke="#000" stroke-width="1.3"/>
<line x1="488.15" y1="88.5" x2="498.35" y2="88.5" stroke="#000" stroke-width="1.5"/>
<line x1="493.25" y1="187.7" x2="493.25" y2="190.7" stroke="#000" stroke-width="1"/>
<text transform="translate(382.6,199.4) rotate(-45)" font-size="10.4" text-anchor="end" style="stroke-width:0.1px">B16-Kb<tspan font-size="7.4" dx="1.3" dy="-4.6">Lo</tspan></text>
<text transform="translate(409.8,199.2) rotate(-45)" font-size="10.5" text-anchor="end" style="stroke-width:0.1px">B16-Kb<tspan font-size="7.4" dx="1.3" dy="-4.6">Lo</tspan><tspan dy="4.6">/IFN</tspan><tspan font-size="7.4" dy="1.4">&#947;</tspan></text>
<text transform="translate(467.6,199.4) rotate(-45)" font-size="10.4" text-anchor="end" style="stroke-width:0.1px">B16-Kb<tspan font-size="7.4" dx="1.3" dy="-4.6">Lo</tspan></text>
<text transform="translate(494.8,199.2) rotate(-45)" font-size="10.5" text-anchor="end" style="stroke-width:0.1px">B16-Kb<tspan font-size="7.4" dx="1.3" dy="-4.6">Lo</tspan><tspan dy="4.6">/IFN</tspan><tspan font-size="7.4" dy="1.4">&#947;</tspan></text>
<text x="2.11" y="301.2" font-size="14" textLength="10.38" lengthAdjust="spacingAndGlyphs" font-weight="bold">C</text>
<line x1="50.5" y1="289.8" x2="293.2" y2="289.8" stroke="#000" stroke-width="1.5"/>
<line x1="50.5" y1="285.8" x2="50.5" y2="293.4" stroke="#000" stroke-width="1.3"/>
<line x1="137.3" y1="285.8" x2="137.3" y2="293.4" stroke="#000" stroke-width="1.3"/>
<line x1="226.9" y1="285.8" x2="226.9" y2="293.4" stroke="#000" stroke-width="1.3"/>
<text x="44.34" y="283.7" font-size="8.7" textLength="11.84" lengthAdjust="spacingAndGlyphs">D0</text>
<text x="131.14" y="284" font-size="8.7" textLength="11.9" lengthAdjust="spacingAndGlyphs">D7</text>
<text x="219.29" y="284" font-size="8.7" textLength="17.32" lengthAdjust="spacingAndGlyphs">D18</text>
<line x1="150.8" y1="271.9" x2="150.8" y2="280" stroke="#000" stroke-width="1.3"/>
<path d="M148.4,279 L153.2,279 L150.8,285.8 Z" fill="#000"/>
<line x1="159.4" y1="271.9" x2="159.4" y2="280" stroke="#000" stroke-width="1.3"/>
<path d="M157,279 L161.8,279 L159.4,285.8 Z" fill="#000"/>
<line x1="167.7" y1="271.9" x2="167.7" y2="280" stroke="#000" stroke-width="1.3"/>
<path d="M165.3,279 L170.1,279 L167.7,285.8 Z" fill="#000"/>
<line x1="176.3" y1="271.9" x2="176.3" y2="280" stroke="#000" stroke-width="1.3"/>
<path d="M173.9,279 L178.7,279 L176.3,285.8 Z" fill="#000"/>
<line x1="240.8" y1="271.9" x2="240.8" y2="280" stroke="#000" stroke-width="1.3"/>
<path d="M238.4,279 L243.2,279 L240.8,285.8 Z" fill="#000"/>
<line x1="249.8" y1="271.9" x2="249.8" y2="280" stroke="#000" stroke-width="1.3"/>
<path d="M247.4,279 L252.2,279 L249.8,285.8 Z" fill="#000"/>
<line x1="258.1" y1="271.9" x2="258.1" y2="280" stroke="#000" stroke-width="1.3"/>
<path d="M255.7,279 L260.5,279 L258.1,285.8 Z" fill="#000"/>
<line x1="266.7" y1="271.9" x2="266.7" y2="280" stroke="#000" stroke-width="1.3"/>
<path d="M264.3,279 L269.1,279 L266.7,285.8 Z" fill="#000"/>
<text x="145.61" y="265" font-size="9.3" textLength="60.78" lengthAdjust="spacingAndGlyphs"><tspan font-family="Liberation Serif" font-style="italic" font-size="10.4">&#945;</tspan>PD-L1 mAb</text>
<text x="235.12" y="265" font-size="9.3" textLength="59.78" lengthAdjust="spacingAndGlyphs"><tspan font-family="Liberation Serif" font-style="italic" font-size="10.4">&#945;</tspan>PD-L1 mAb</text>
<text x="123.96" y="306.5" font-size="9.3" textLength="27.59" lengthAdjust="spacingAndGlyphs">TriVax</text>
<text x="211.26" y="306.5" font-size="9.3" textLength="28.36" lengthAdjust="spacingAndGlyphs">TriVax</text>
<text x="27.71" y="306.5" font-size="9.4" textLength="43.61" lengthAdjust="spacingAndGlyphs" style="stroke-width:0.1px">B16-Kb<tspan font-size="6.8" dy="-4.0">Lo</tspan></text>
<text x="20.64" y="318.6" font-size="10" textLength="58.3" lengthAdjust="spacingAndGlyphs" style="stroke-width:0.1px">3 <tspan font-size="7.4">&#215;</tspan> 10<tspan font-size="7.2" dy="-4.6">5</tspan><tspan dy="4.6">,  </tspan><tspan font-style="italic">s.c.</tspan></text>
<line x1="55.8" y1="379.4" x2="55.8" y2="525.6" stroke="#000" stroke-width="1.6"/>
<line x1="55" y1="524.8" x2="292.8" y2="524.8" stroke="#000" stroke-width="1.6"/>
<line x1="52.4" y1="524.8" x2="55.8" y2="524.8" stroke="#000" stroke-width="1.3"/>
<text x="52.5" y="528.1" font-size="9.2" text-anchor="end">0</text>
<line x1="52.4" y1="490.97" x2="55.8" y2="490.97" stroke="#000" stroke-width="1.3"/>
<text x="52.5" y="494.27" font-size="9.2" text-anchor="end">100</text>
<line x1="52.4" y1="457.14" x2="55.8" y2="457.14" stroke="#000" stroke-width="1.3"/>
<text x="52.5" y="460.44" font-size="9.2" text-anchor="end">200</text>
<line x1="52.4" y1="423.31" x2="55.8" y2="423.31" stroke="#000" stroke-width="1.3"/>
<text x="52.5" y="426.61" font-size="9.2" text-anchor="end">300</text>
<line x1="52.4" y1="389.48" x2="55.8" y2="389.48" stroke="#000" stroke-width="1.3"/>
<text x="52.5" y="392.78" font-size="9.2" text-anchor="end">400</text>
<line x1="55.8" y1="524.8" x2="55.8" y2="527.8" stroke="#000" stroke-width="1.2"/>
<text x="56.2" y="536.3" font-size="9" text-anchor="middle">0</text>
<line x1="79" y1="524.8" x2="79" y2="527.8" stroke="#000" stroke-width="1.2"/>
<text x="79.5" y="536.3" font-size="9" text-anchor="middle">5</text>
<line x1="102.2" y1="524.8" x2="102.2" y2="527.8" stroke="#000" stroke-width="1.2"/>
<text x="102.5" y="536.3" font-size="9" text-anchor="middle">10</text>
<line x1="125.4" y1="524.8" x2="125.4" y2="527.8" stroke="#000" stroke-width="1.2"/>
<text x="123.8" y="536.3" font-size="9" text-anchor="middle">15</text>
<line x1="148.6" y1="524.8" x2="148.6" y2="527.8" stroke="#000" stroke-width="1.2"/>
<text x="150.5" y="536.3" font-size="9" text-anchor="middle">20</text>
<line x1="171.8" y1="524.8" x2="171.8" y2="527.8" stroke="#000" stroke-width="1.2"/>
<text x="173" y="536.3" font-size="9" text-anchor="middle">25</text>
<line x1="195" y1="524.8" x2="195" y2="527.8" stroke="#000" stroke-width="1.2"/>
<text x="195.6" y="536.3" font-size="9" text-anchor="middle">30</text>
<line x1="218.2" y1="524.8" x2="218.2" y2="527.8" stroke="#000" stroke-width="1.2"/>
<text x="218.5" y="536.3" font-size="9" text-anchor="middle">35</text>
<line x1="241.4" y1="524.8" x2="241.4" y2="527.8" stroke="#000" stroke-width="1.2"/>
<text x="241.4" y="536.3" font-size="9" text-anchor="middle">40</text>
<line x1="264.6" y1="524.8" x2="264.6" y2="527.8" stroke="#000" stroke-width="1.2"/>
<text x="264.2" y="536.3" font-size="9" text-anchor="middle">45</text>
<line x1="287.8" y1="524.8" x2="287.8" y2="527.8" stroke="#000" stroke-width="1.2"/>
<text x="287.7" y="536.3" font-size="9" text-anchor="middle">50</text>
<rect x="95.8" y="538.8" width="30.5" height="5.4" fill="#a6a6a6"/>
<rect x="148.6" y="538.8" width="30.8" height="5.4" fill="#a6a6a6"/>
<text x="105.8" y="561.3" font-size="11.5" textLength="140.22" lengthAdjust="spacingAndGlyphs">Days After Tumor Injection</text>
<text transform="translate(28.5,453) rotate(-90)" font-size="14.1" text-anchor="middle" textLength="112" lengthAdjust="spacingAndGlyphs" style="stroke-width:0.1px">Tumor Size (mm<tspan font-size="9.2" dy="-5.6">2</tspan><tspan dy="5.6">)</tspan></text>
<path d="M55.8,524.8 L88.28,519.73 L102.2,519.05 L120.76,520.06 L134.68,523.11 L153.24,523.45 L167.16,523.79 L185.72,523.79 L199.64,523.79 L218.2,523.79 L232.12,523.79 L250.68,523.79 L264.6,523.45 L283.16,522.77" stroke="#000" stroke-width="1.6" fill="none"/>
<line x1="88.28" y1="519.05" x2="88.28" y2="520.4" stroke="#000" stroke-width="1.2"/>
<line x1="84.48" y1="519.05" x2="92.08" y2="519.05" stroke="#000" stroke-width="1.4"/>
<line x1="84.48" y1="520.4" x2="92.08" y2="520.4" stroke="#000" stroke-width="1.4"/>
<line x1="102.2" y1="518.37" x2="102.2" y2="519.73" stroke="#000" stroke-width="1.2"/>
<line x1="98.4" y1="518.37" x2="106" y2="518.37" stroke="#000" stroke-width="1.4"/>
<line x1="98.4" y1="519.73" x2="106" y2="519.73" stroke="#000" stroke-width="1.4"/>
<line x1="120.76" y1="519.39" x2="120.76" y2="520.74" stroke="#000" stroke-width="1.2"/>
<line x1="116.96" y1="519.39" x2="124.56" y2="519.39" stroke="#000" stroke-width="1.4"/>
<line x1="116.96" y1="520.74" x2="124.56" y2="520.74" stroke="#000" stroke-width="1.4"/>
<circle cx="55.8" cy="524.8" r="3.7" fill="#000"/>
<circle cx="88.28" cy="519.73" r="3.7" fill="#000"/>
<circle cx="102.2" cy="519.05" r="3.7" fill="#000"/>
<circle cx="120.76" cy="520.06" r="3.7" fill="#000"/>
<circle cx="134.68" cy="523.11" r="3.7" fill="#000"/>
<circle cx="153.24" cy="523.45" r="3.7" fill="#000"/>
<circle cx="167.16" cy="523.79" r="3.7" fill="#000"/>
<circle cx="185.72" cy="523.79" r="3.7" fill="#000"/>
<circle cx="199.64" cy="523.79" r="3.7" fill="#000"/>
<circle cx="218.2" cy="523.79" r="3.7" fill="#000"/>
<circle cx="232.12" cy="523.79" r="3.7" fill="#000"/>
<circle cx="250.68" cy="523.79" r="3.7" fill="#000"/>
<circle cx="264.6" cy="523.45" r="3.7" fill="#000"/>
<circle cx="283.16" cy="522.77" r="3.7" fill="#000"/>
<path d="M55.8,524.8 L88.28,519.39 L102.2,518.03 L120.76,512.28 L134.68,513.3 L153.24,509.91 L167.16,508.9 L185.72,505.86 L199.64,503.83 L218.2,502.47 L232.12,501.46 L250.68,500.78 L264.6,498.75 L283.16,490.63" stroke="#000" stroke-width="1.6" fill="none"/>
<line x1="88.28" y1="518.71" x2="88.28" y2="520.06" stroke="#000" stroke-width="1.2"/>
<line x1="84.48" y1="518.71" x2="92.08" y2="518.71" stroke="#000" stroke-width="1.4"/>
<line x1="84.48" y1="520.06" x2="92.08" y2="520.06" stroke="#000" stroke-width="1.4"/>
<line x1="102.2" y1="517.02" x2="102.2" y2="519.05" stroke="#000" stroke-width="1.2"/>
<line x1="98.4" y1="517.02" x2="106" y2="517.02" stroke="#000" stroke-width="1.4"/>
<line x1="98.4" y1="519.05" x2="106" y2="519.05" stroke="#000" stroke-width="1.4"/>
<line x1="120.76" y1="510.93" x2="120.76" y2="513.64" stroke="#000" stroke-width="1.2"/>
<line x1="116.96" y1="510.93" x2="124.56" y2="510.93" stroke="#000" stroke-width="1.4"/>
<line x1="116.96" y1="513.64" x2="124.56" y2="513.64" stroke="#000" stroke-width="1.4"/>
<line x1="134.68" y1="511.61" x2="134.68" y2="514.99" stroke="#000" stroke-width="1.2"/>
<line x1="130.88" y1="511.61" x2="138.48" y2="511.61" stroke="#000" stroke-width="1.4"/>
<line x1="130.88" y1="514.99" x2="138.48" y2="514.99" stroke="#000" stroke-width="1.4"/>
<line x1="153.24" y1="507.88" x2="153.24" y2="511.94" stroke="#000" stroke-width="1.2"/>
<line x1="149.44" y1="507.88" x2="157.04" y2="507.88" stroke="#000" stroke-width="1.4"/>
<line x1="149.44" y1="511.94" x2="157.04" y2="511.94" stroke="#000" stroke-width="1.4"/>
<line x1="167.16" y1="506.87" x2="167.16" y2="510.93" stroke="#000" stroke-width="1.2"/>
<line x1="163.36" y1="506.87" x2="170.96" y2="506.87" stroke="#000" stroke-width="1.4"/>
<line x1="163.36" y1="510.93" x2="170.96" y2="510.93" stroke="#000" stroke-width="1.4"/>
<line x1="185.72" y1="503.15" x2="185.72" y2="508.56" stroke="#000" stroke-width="1.2"/>
<line x1="181.92" y1="503.15" x2="189.52" y2="503.15" stroke="#000" stroke-width="1.4"/>
<line x1="181.92" y1="508.56" x2="189.52" y2="508.56" stroke="#000" stroke-width="1.4"/>
<line x1="199.64" y1="498.75" x2="199.64" y2="508.9" stroke="#000" stroke-width="1.2"/>
<line x1="195.84" y1="498.75" x2="203.44" y2="498.75" stroke="#000" stroke-width="1.4"/>
<line x1="195.84" y1="508.9" x2="203.44" y2="508.9" stroke="#000" stroke-width="1.4"/>
<line x1="218.2" y1="496.04" x2="218.2" y2="508.9" stroke="#000" stroke-width="1.2"/>
<line x1="214.4" y1="496.04" x2="222" y2="496.04" stroke="#000" stroke-width="1.4"/>
<line x1="214.4" y1="508.9" x2="222" y2="508.9" stroke="#000" stroke-width="1.4"/>
<line x1="232.12" y1="492.66" x2="232.12" y2="510.25" stroke="#000" stroke-width="1.2"/>
<line x1="228.32" y1="492.66" x2="235.92" y2="492.66" stroke="#000" stroke-width="1.4"/>
<line x1="228.32" y1="510.25" x2="235.92" y2="510.25" stroke="#000" stroke-width="1.4"/>
<line x1="250.68" y1="489.96" x2="250.68" y2="511.61" stroke="#000" stroke-width="1.2"/>
<line x1="246.88" y1="489.96" x2="254.48" y2="489.96" stroke="#000" stroke-width="1.4"/>
<line x1="246.88" y1="511.61" x2="254.48" y2="511.61" stroke="#000" stroke-width="1.4"/>
<line x1="264.6" y1="483.87" x2="264.6" y2="513.64" stroke="#000" stroke-width="1.2"/>
<line x1="260.8" y1="483.87" x2="268.4" y2="483.87" stroke="#000" stroke-width="1.4"/>
<line x1="260.8" y1="513.64" x2="268.4" y2="513.64" stroke="#000" stroke-width="1.4"/>
<line x1="283.16" y1="466.27" x2="283.16" y2="514.99" stroke="#000" stroke-width="1.2"/>
<line x1="279.36" y1="466.27" x2="286.96" y2="466.27" stroke="#000" stroke-width="1.4"/>
<line x1="279.36" y1="514.99" x2="286.96" y2="514.99" stroke="#000" stroke-width="1.4"/>
<path d="M55.8,520 L60.6,524.8 L55.8,529.6 L51,524.8 Z" fill="#000"/>
<path d="M88.28,514.59 L93.08,519.39 L88.28,524.19 L83.48,519.39 Z" fill="#000"/>
<path d="M102.2,513.23 L107,518.03 L102.2,522.83 L97.4,518.03 Z" fill="#000"/>
<path d="M120.76,507.48 L125.56,512.28 L120.76,517.08 L115.96,512.28 Z" fill="#000"/>
<path d="M134.68,508.5 L139.48,513.3 L134.68,518.1 L129.88,513.3 Z" fill="#000"/>
<path d="M153.24,505.11 L158.04,509.91 L153.24,514.71 L148.44,509.91 Z" fill="#000"/>
<path d="M167.16,504.1 L171.96,508.9 L167.16,513.7 L162.36,508.9 Z" fill="#000"/>
<path d="M185.72,501.06 L190.52,505.86 L185.72,510.66 L180.92,505.86 Z" fill="#000"/>
<path d="M199.64,499.03 L204.44,503.83 L199.64,508.63 L194.84,503.83 Z" fill="#000"/>
<path d="M218.2,497.67 L223,502.47 L218.2,507.27 L213.4,502.47 Z" fill="#000"/>
<path d="M232.12,496.66 L236.92,501.46 L232.12,506.26 L227.32,501.46 Z" fill="#000"/>
<path d="M250.68,495.98 L255.48,500.78 L250.68,505.58 L245.88,500.78 Z" fill="#000"/>
<path d="M264.6,493.95 L269.4,498.75 L264.6,503.55 L259.8,498.75 Z" fill="#000"/>
<path d="M283.16,485.83 L287.96,490.63 L283.16,495.43 L278.36,490.63 Z" fill="#000"/>
<path d="M55.8,524.8 L88.28,519.73 L102.2,517.36 L120.76,507.88 L134.68,498.41 L153.24,475.75 L167.16,451.73 L185.72,401.66" stroke="#000" stroke-width="1.6" fill="none"/>
<line x1="88.28" y1="518.71" x2="88.28" y2="520.74" stroke="#000" stroke-width="1.2"/>
<line x1="84.48" y1="518.71" x2="92.08" y2="518.71" stroke="#000" stroke-width="1.4"/>
<line x1="84.48" y1="520.74" x2="92.08" y2="520.74" stroke="#000" stroke-width="1.4"/>
<line x1="102.2" y1="516" x2="102.2" y2="518.71" stroke="#000" stroke-width="1.2"/>
<line x1="98.4" y1="516" x2="106" y2="516" stroke="#000" stroke-width="1.4"/>
<line x1="98.4" y1="518.71" x2="106" y2="518.71" stroke="#000" stroke-width="1.4"/>
<line x1="120.76" y1="505.86" x2="120.76" y2="509.91" stroke="#000" stroke-width="1.2"/>
<line x1="116.96" y1="505.86" x2="124.56" y2="505.86" stroke="#000" stroke-width="1.4"/>
<line x1="116.96" y1="509.91" x2="124.56" y2="509.91" stroke="#000" stroke-width="1.4"/>
<line x1="134.68" y1="495.03" x2="134.68" y2="501.8" stroke="#000" stroke-width="1.2"/>
<line x1="130.88" y1="495.03" x2="138.48" y2="495.03" stroke="#000" stroke-width="1.4"/>
<line x1="130.88" y1="501.8" x2="138.48" y2="501.8" stroke="#000" stroke-width="1.4"/>
<line x1="153.24" y1="470.67" x2="153.24" y2="480.82" stroke="#000" stroke-width="1.2"/>
<line x1="149.44" y1="470.67" x2="157.04" y2="470.67" stroke="#000" stroke-width="1.4"/>
<line x1="149.44" y1="480.82" x2="157.04" y2="480.82" stroke="#000" stroke-width="1.4"/>
<line x1="167.16" y1="441.58" x2="167.16" y2="461.88" stroke="#000" stroke-width="1.2"/>
<line x1="163.36" y1="441.58" x2="170.96" y2="441.58" stroke="#000" stroke-width="1.4"/>
<line x1="163.36" y1="461.88" x2="170.96" y2="461.88" stroke="#000" stroke-width="1.4"/>
<line x1="185.72" y1="394.22" x2="185.72" y2="409.1" stroke="#000" stroke-width="1.2"/>
<line x1="181.92" y1="394.22" x2="189.52" y2="394.22" stroke="#000" stroke-width="1.4"/>
<line x1="181.92" y1="409.1" x2="189.52" y2="409.1" stroke="#000" stroke-width="1.4"/>
<path d="M52.1,520.9 L59.5,520.9 L55.8,528.7 Z" fill="#000"/>
<path d="M84.58,515.83 L91.98,515.83 L88.28,523.63 Z" fill="#000"/>
<path d="M98.5,513.46 L105.9,513.46 L102.2,521.26 Z" fill="#000"/>
<path d="M117.06,503.98 L124.46,503.98 L120.76,511.78 Z" fill="#000"/>
<path d="M130.98,494.51 L138.38,494.51 L134.68,502.31 Z" fill="#000"/>
<path d="M149.54,471.85 L156.94,471.85 L153.24,479.65 Z" fill="#000"/>
<path d="M163.46,447.83 L170.86,447.83 L167.16,455.63 Z" fill="#000"/>
<path d="M182.02,397.76 L189.42,397.76 L185.72,405.56 Z" fill="#000"/>
<path d="M55.8,524.8 L88.28,516.68 L102.2,513.3 L120.76,501.8 L134.68,487.59 L153.24,466.61 L167.16,433.12 L185.72,392.86" stroke="#000" stroke-width="1.6" fill="none"/>
<line x1="88.28" y1="515.67" x2="88.28" y2="517.7" stroke="#000" stroke-width="1.2"/>
<line x1="84.48" y1="515.67" x2="92.08" y2="515.67" stroke="#000" stroke-width="1.4"/>
<line x1="84.48" y1="517.7" x2="92.08" y2="517.7" stroke="#000" stroke-width="1.4"/>
<line x1="102.2" y1="511.61" x2="102.2" y2="514.99" stroke="#000" stroke-width="1.2"/>
<line x1="98.4" y1="511.61" x2="106" y2="511.61" stroke="#000" stroke-width="1.4"/>
<line x1="98.4" y1="514.99" x2="106" y2="514.99" stroke="#000" stroke-width="1.4"/>
<line x1="120.76" y1="499.09" x2="120.76" y2="504.5" stroke="#000" stroke-width="1.2"/>
<line x1="116.96" y1="499.09" x2="124.56" y2="499.09" stroke="#000" stroke-width="1.4"/>
<line x1="116.96" y1="504.5" x2="124.56" y2="504.5" stroke="#000" stroke-width="1.4"/>
<line x1="134.68" y1="483.53" x2="134.68" y2="491.65" stroke="#000" stroke-width="1.2"/>
<line x1="130.88" y1="483.53" x2="138.48" y2="483.53" stroke="#000" stroke-width="1.4"/>
<line x1="130.88" y1="491.65" x2="138.48" y2="491.65" stroke="#000" stroke-width="1.4"/>
<line x1="153.24" y1="460.52" x2="153.24" y2="472.7" stroke="#000" stroke-width="1.2"/>
<line x1="149.44" y1="460.52" x2="157.04" y2="460.52" stroke="#000" stroke-width="1.4"/>
<line x1="149.44" y1="472.7" x2="157.04" y2="472.7" stroke="#000" stroke-width="1.4"/>
<line x1="167.16" y1="422.97" x2="167.16" y2="443.27" stroke="#000" stroke-width="1.2"/>
<line x1="163.36" y1="422.97" x2="170.96" y2="422.97" stroke="#000" stroke-width="1.4"/>
<line x1="163.36" y1="443.27" x2="170.96" y2="443.27" stroke="#000" stroke-width="1.4"/>
<line x1="185.72" y1="387.45" x2="185.72" y2="398.28" stroke="#000" stroke-width="1.2"/>
<line x1="181.92" y1="387.45" x2="189.52" y2="387.45" stroke="#000" stroke-width="1.4"/>
<line x1="181.92" y1="398.28" x2="189.52" y2="398.28" stroke="#000" stroke-width="1.4"/>
<rect x="52.3" y="521.3" width="7" height="7" fill="#000"/>
<rect x="84.78" y="513.18" width="7" height="7" fill="#000"/>
<rect x="98.7" y="509.8" width="7" height="7" fill="#000"/>
<rect x="117.26" y="498.3" width="7" height="7" fill="#000"/>
<rect x="131.18" y="484.09" width="7" height="7" fill="#000"/>
<rect x="149.74" y="463.11" width="7" height="7" fill="#000"/>
<rect x="163.66" y="429.62" width="7" height="7" fill="#000"/>
<rect x="182.22" y="389.36" width="7" height="7" fill="#000"/>
<line x1="88.28" y1="483" x2="88.28" y2="500" stroke="#000" stroke-width="1.4"/>
<path d="M85.58,498.8 L90.98,498.8 L88.28,506 Z" fill="#000"/>
<line x1="134.68" y1="449" x2="134.68" y2="467" stroke="#000" stroke-width="1.4"/>
<path d="M131.98,465.8 L137.38,465.8 L134.68,473 Z" fill="#000"/>
<line x1="292.1" y1="464.3" x2="292.1" y2="527" stroke="#000" stroke-width="1.2"/>
<line x1="289.2" y1="464.3" x2="292.1" y2="464.3" stroke="#000" stroke-width="1.2"/>
<text x="282.47" y="457.5" font-size="7.3" textLength="34.04" lengthAdjust="spacingAndGlyphs" fill="#333" style="stroke-width:0.05px"><tspan font-style="italic">P</tspan>&lt;0.0001</text>
<text x="300.6" y="532.6" font-size="24" text-anchor="middle">*</text>
<line x1="69.8" y1="356.3" x2="78.2" y2="356.3" stroke="#000" stroke-width="1.3"/>
<rect x="70.3" y="352.6" width="7.4" height="7.4" fill="#000"/>
<text x="83.63" y="359.2" font-size="9.2" textLength="29.72" lengthAdjust="spacingAndGlyphs" style="stroke-width:0.15px">No Vax</text>
<line x1="69.8" y1="369.6" x2="78.2" y2="369.6" stroke="#000" stroke-width="1.3"/>
<path d="M70.4,365.7 L77.6,365.7 L74,373.5 Z" fill="#000"/>
<text x="83.88" y="371.8" font-size="9.2" textLength="58.11" lengthAdjust="spacingAndGlyphs" style="stroke-width:0.15px">Ova<tspan font-size="6.6" dy="1.7">55</tspan><tspan dy="-1.7">+</tspan><tspan font-family="Liberation Serif" font-style="italic" font-size="9.8">&#945;</tspan>PD-L1</text>
<line x1="69.8" y1="383.2" x2="78.2" y2="383.2" stroke="#000" stroke-width="1.3"/>
<path d="M74,378.7 L78.5,383.2 L74,387.7 L69.5,383.2 Z" fill="#000"/>
<text x="84.04" y="385.6" font-size="9.2" textLength="29.24" lengthAdjust="spacingAndGlyphs" style="stroke-width:0.15px">Trp1<tspan font-size="6.6" dy="1.7">455</tspan></text>
<line x1="69.8" y1="395.9" x2="78.2" y2="395.9" stroke="#000" stroke-width="1.3"/>
<circle cx="74" cy="395.9" r="3.95" fill="#000"/>
<text x="84.04" y="398.2" font-size="9.2" textLength="62.32" lengthAdjust="spacingAndGlyphs" style="stroke-width:0.15px">Trp1<tspan font-size="6.6" dy="1.7">455</tspan><tspan dy="-1.7">+</tspan><tspan font-family="Liberation Serif" font-style="italic" font-size="9.8">&#945;</tspan>PDL1</text>
<line x1="392.2" y1="297.5" x2="392.2" y2="381.9" stroke="#222" stroke-width="1.3"/>
<line x1="391.6" y1="381.3" x2="516.2" y2="381.3" stroke="#222" stroke-width="1.3"/>
<line x1="390" y1="381.3" x2="392.2" y2="381.3" stroke="#444" stroke-width="0.8"/>
<text x="389.8" y="383.3" font-size="5.6" text-anchor="end" fill="#666">0</text>
<line x1="390" y1="361.7" x2="392.2" y2="361.7" stroke="#444" stroke-width="0.8"/>
<text x="389.8" y="363.7" font-size="5.6" text-anchor="end" fill="#666">100</text>
<line x1="390" y1="342.1" x2="392.2" y2="342.1" stroke="#444" stroke-width="0.8"/>
<text x="389.8" y="344.1" font-size="5.6" text-anchor="end" fill="#666">200</text>
<line x1="390" y1="322.5" x2="392.2" y2="322.5" stroke="#444" stroke-width="0.8"/>
<text x="389.8" y="324.5" font-size="5.6" text-anchor="end" fill="#666">300</text>
<line x1="390" y1="302.9" x2="392.2" y2="302.9" stroke="#444" stroke-width="0.8"/>
<text x="389.8" y="304.9" font-size="5.6" text-anchor="end" fill="#666">400</text>
<line x1="392.2" y1="381.3" x2="392.2" y2="383.3" stroke="#444" stroke-width="0.8"/>
<text x="392.2" y="388.1" font-size="5.6" text-anchor="middle" fill="#666">0</text>
<line x1="404.35" y1="381.3" x2="404.35" y2="383.3" stroke="#444" stroke-width="0.8"/>
<text x="404.35" y="388.1" font-size="5.6" text-anchor="middle" fill="#666">5</text>
<line x1="416.5" y1="381.3" x2="416.5" y2="383.3" stroke="#444" stroke-width="0.8"/>
<text x="416.5" y="388.1" font-size="5.6" text-anchor="middle" fill="#666">10</text>
<line x1="428.65" y1="381.3" x2="428.65" y2="383.3" stroke="#444" stroke-width="0.8"/>
<text x="428.65" y="388.1" font-size="5.6" text-anchor="middle" fill="#666">15</text>
<line x1="440.8" y1="381.3" x2="440.8" y2="383.3" stroke="#444" stroke-width="0.8"/>
<text x="440.8" y="388.1" font-size="5.6" text-anchor="middle" fill="#666">20</text>
<line x1="452.95" y1="381.3" x2="452.95" y2="383.3" stroke="#444" stroke-width="0.8"/>
<text x="452.95" y="388.1" font-size="5.6" text-anchor="middle" fill="#666">25</text>
<line x1="465.1" y1="381.3" x2="465.1" y2="383.3" stroke="#444" stroke-width="0.8"/>
<text x="465.1" y="388.1" font-size="5.6" text-anchor="middle" fill="#666">30</text>
<line x1="477.25" y1="381.3" x2="477.25" y2="383.3" stroke="#444" stroke-width="0.8"/>
<text x="477.25" y="388.1" font-size="5.6" text-anchor="middle" fill="#666">35</text>
<line x1="489.4" y1="381.3" x2="489.4" y2="383.3" stroke="#444" stroke-width="0.8"/>
<text x="489.4" y="388.1" font-size="5.6" text-anchor="middle" fill="#666">40</text>
<line x1="501.55" y1="381.3" x2="501.55" y2="383.3" stroke="#444" stroke-width="0.8"/>
<text x="501.55" y="388.1" font-size="5.6" text-anchor="middle" fill="#666">45</text>
<line x1="513.7" y1="381.3" x2="513.7" y2="383.3" stroke="#444" stroke-width="0.8"/>
<text x="513.7" y="388.1" font-size="5.6" text-anchor="middle" fill="#666">50</text>
<path d="M392.2,381.3 L404.35,378.95 L416.5,376.4 L428.65,373.85 L440.8,372.28 L452.95,369.93 L465.1,366.6 L477.25,364.05 L489.4,361.7 L501.55,360.13 L512.49,340.53" stroke="#2a2a2a" stroke-width="1" fill="none" stroke-linejoin="round"/>
<path d="M392.2,381.3 L404.35,379.34 L416.5,377.38 L428.65,374.44 L440.8,372.48 L452.95,370.52 L465.1,367.97 L477.25,365.62 L489.4,363.27 L501.55,359.74 L512.49,352.49" stroke="#2a2a2a" stroke-width="1" fill="none" stroke-linejoin="round"/>
<path d="M392.2,381.3 L404.35,379.14 L416.5,376.6 L428.65,373.46 L440.8,373.07 L452.95,371.11 L465.1,369.54 L477.25,369.54 L489.4,366.6 L501.55,362.68 L512.49,358.76" stroke="#2a2a2a" stroke-width="1" fill="none" stroke-linejoin="round"/>
<path d="M392.2,381.3 L404.35,379.54 L416.5,377.38 L428.65,375.81 L440.8,372.68 L452.95,369.54 L465.1,365.62 L477.25,363.66 L489.4,362.09 L496.69,361.7 L501.55,361.7 L512.49,358.76" stroke="#2a2a2a" stroke-width="1" fill="none" stroke-linejoin="round"/>
<path d="M392.2,381.3 L404.35,379.34 L416.5,377.77 L428.65,377.38 L440.8,375.42 L452.95,371.89 L465.1,370.52 L477.25,371.5 L489.4,373.46 L501.55,376.2 L512.49,377.38" stroke="#2a2a2a" stroke-width="1" fill="none" stroke-linejoin="round"/>
<path d="M392.2,381.3 L404.35,378.95 L416.5,376.99 L428.65,374.44 L440.8,372.48 L452.95,371.5 L465.1,369.54 L477.25,372.48 L489.4,377.38 L501.55,381.3" stroke="#2a2a2a" stroke-width="1" fill="none" stroke-linejoin="round"/>
<path d="M392.2,381.3 L404.35,379.73 L416.5,376.99 L428.65,375.42 L440.8,373.85 L452.95,372.48 L465.1,371.89 L477.25,370.52 L489.4,365.62 L501.55,361.7 L512.49,359.35" stroke="#2a2a2a" stroke-width="1" fill="none" stroke-linejoin="round"/>
<text x="331" y="300.7" font-size="14" textLength="11.34" lengthAdjust="spacingAndGlyphs" font-weight="bold">D</text>
<text x="398.18" y="281.3" font-size="9.7" textLength="34.15" lengthAdjust="spacingAndGlyphs" style="stroke-width:0.05px">Trp1<tspan font-size="7.6" dy="2.4">455</tspan></text>
<text transform="translate(374.4,338.4) rotate(-90)" font-size="8.6" text-anchor="middle" textLength="67.5" lengthAdjust="spacingAndGlyphs" style="stroke-width:0.05px">Tumor Size (mm<tspan font-size="5.8" dy="-3.4">2</tspan><tspan dy="3.4">)</tspan></text>
<text x="406.7" y="402" font-size="8.2" textLength="94.04" lengthAdjust="spacingAndGlyphs" style="stroke-width:0.05px">Days After Tumor Injection</text>
<line x1="392" y1="461.2" x2="392" y2="545.2" stroke="#222" stroke-width="1.3"/>
<line x1="391.4" y1="544.6" x2="516" y2="544.6" stroke="#222" stroke-width="1.3"/>
<line x1="389.8" y1="544.6" x2="392" y2="544.6" stroke="#444" stroke-width="0.8"/>
<text x="389.6" y="546.6" font-size="5.6" text-anchor="end" fill="#666">0</text>
<line x1="389.8" y1="525.2" x2="392" y2="525.2" stroke="#444" stroke-width="0.8"/>
<text x="389.6" y="527.2" font-size="5.6" text-anchor="end" fill="#666">100</text>
<line x1="389.8" y1="505.8" x2="392" y2="505.8" stroke="#444" stroke-width="0.8"/>
<text x="389.6" y="507.8" font-size="5.6" text-anchor="end" fill="#666">200</text>
<line x1="389.8" y1="486.4" x2="392" y2="486.4" stroke="#444" stroke-width="0.8"/>
<text x="389.6" y="488.4" font-size="5.6" text-anchor="end" fill="#666">300</text>
<line x1="389.8" y1="467" x2="392" y2="467" stroke="#444" stroke-width="0.8"/>
<text x="389.6" y="469" font-size="5.6" text-anchor="end" fill="#666">400</text>
<line x1="392" y1="544.6" x2="392" y2="546.6" stroke="#444" stroke-width="0.8"/>
<text x="392" y="551.4" font-size="5.6" text-anchor="middle" fill="#666">0</text>
<line x1="404.15" y1="544.6" x2="404.15" y2="546.6" stroke="#444" stroke-width="0.8"/>
<text x="404.15" y="551.4" font-size="5.6" text-anchor="middle" fill="#666">5</text>
<line x1="416.3" y1="544.6" x2="416.3" y2="546.6" stroke="#444" stroke-width="0.8"/>
<text x="416.3" y="551.4" font-size="5.6" text-anchor="middle" fill="#666">10</text>
<line x1="428.45" y1="544.6" x2="428.45" y2="546.6" stroke="#444" stroke-width="0.8"/>
<text x="428.45" y="551.4" font-size="5.6" text-anchor="middle" fill="#666">15</text>
<line x1="440.6" y1="544.6" x2="440.6" y2="546.6" stroke="#444" stroke-width="0.8"/>
<text x="440.6" y="551.4" font-size="5.6" text-anchor="middle" fill="#666">20</text>
<line x1="452.75" y1="544.6" x2="452.75" y2="546.6" stroke="#444" stroke-width="0.8"/>
<text x="452.75" y="551.4" font-size="5.6" text-anchor="middle" fill="#666">25</text>
<line x1="464.9" y1="544.6" x2="464.9" y2="546.6" stroke="#444" stroke-width="0.8"/>
<text x="464.9" y="551.4" font-size="5.6" text-anchor="middle" fill="#666">30</text>
<line x1="477.05" y1="544.6" x2="477.05" y2="546.6" stroke="#444" stroke-width="0.8"/>
<text x="477.05" y="551.4" font-size="5.6" text-anchor="middle" fill="#666">35</text>
<line x1="489.2" y1="544.6" x2="489.2" y2="546.6" stroke="#444" stroke-width="0.8"/>
<text x="489.2" y="551.4" font-size="5.6" text-anchor="middle" fill="#666">40</text>
<line x1="501.35" y1="544.6" x2="501.35" y2="546.6" stroke="#444" stroke-width="0.8"/>
<text x="501.35" y="551.4" font-size="5.6" text-anchor="middle" fill="#666">45</text>
<line x1="513.5" y1="544.6" x2="513.5" y2="546.6" stroke="#444" stroke-width="0.8"/>
<text x="513.5" y="551.4" font-size="5.6" text-anchor="middle" fill="#666">50</text>
<path d="M392,544.6 L404.15,543.05 L416.3,541.5 L428.45,541.88 L440.6,542.66 L452.75,542.27 L464.9,542.27 L477.05,542.27 L489.2,542.27 L494.06,541.88 L501.35,538.59 L511.07,535.09" stroke="#2a2a2a" stroke-width="1" fill="none" stroke-linejoin="round"/>
<path d="M392,544.6 L404.15,542.66 L411.44,541.5 L416.3,541.11 L423.59,539.94 L428.45,541.11 L440.6,543.05 L452.75,543.82 L464.9,544.6" stroke="#2a2a2a" stroke-width="1" fill="none" stroke-linejoin="round"/>
<path d="M392,544.6 L404.15,542.27 L411.44,540.72 L416.3,540.33 L421.16,541.88 L428.45,543.05 L440.6,543.82 L452.75,544.21 L464.9,544.6" stroke="#2a2a2a" stroke-width="1" fill="none" stroke-linejoin="round"/>
<path d="M392,544.6 L404.15,542.85 L416.3,541.88 L423.59,539.56 L428.45,540.72 L440.6,542.27 L452.75,543.05 L464.9,543.82 L469.76,544.6" stroke="#2a2a2a" stroke-width="1" fill="none" stroke-linejoin="round"/>
<path d="M392,544.6 L404.15,541.88 L416.3,540.72 L428.45,542.66 L440.6,543.63 L452.75,544.21 L460.04,544.6" stroke="#2a2a2a" stroke-width="1" fill="none" stroke-linejoin="round"/>
<text x="344.58" y="432.7" font-size="14" textLength="11.28" lengthAdjust="spacingAndGlyphs" font-weight="bold">E</text>
<text x="399.07" y="446.7" font-size="9.7" textLength="72.97" lengthAdjust="spacingAndGlyphs" style="stroke-width:0.05px">Trp1<tspan font-size="7.6" dy="2.4">455</tspan><tspan dy="-2.4">+</tspan><tspan font-family="Liberation Serif" font-style="italic" font-size="10.6">&#945;</tspan>PD-L1</text>
<text transform="translate(373.4,502.0) rotate(-90)" font-size="8.6" text-anchor="middle" textLength="67.5" lengthAdjust="spacingAndGlyphs" style="stroke-width:0.05px">Tumor Size (mm<tspan font-size="5.8" dy="-3.4">2</tspan><tspan dy="3.4">)</tspan></text>
<text x="406.76" y="564.6" font-size="8.2" textLength="93.35" lengthAdjust="spacingAndGlyphs" style="stroke-width:0.05px">Days After Tumor Injection</text>
</svg>
</body></html>
